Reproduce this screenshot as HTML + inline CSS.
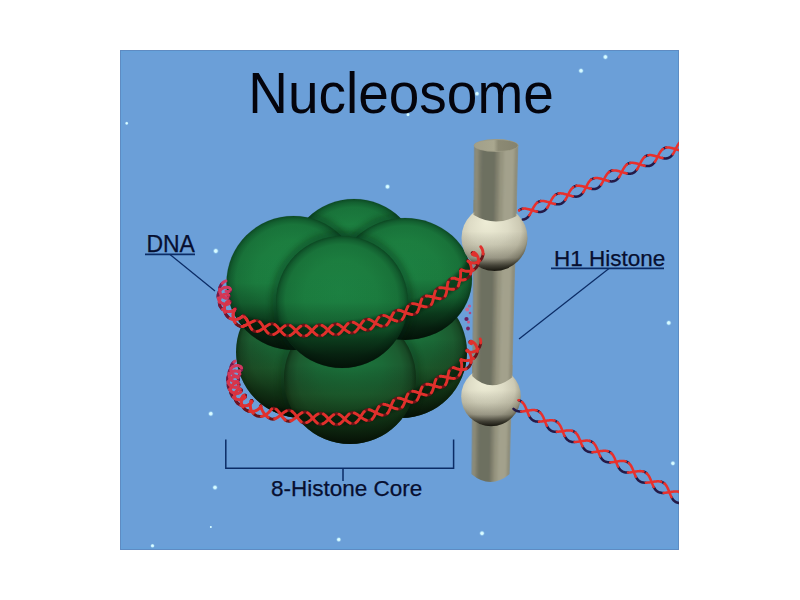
<!DOCTYPE html><html><head><meta charset="utf-8"><style>html,body{margin:0;padding:0;background:#fff;}svg{display:block}</style></head><body><svg width="800" height="600" viewBox="0 0 800 600"><defs><clipPath id="blueclip"><rect x="120" y="50" width="559" height="500"/></clipPath><radialGradient id="gU" cx="0.5" cy="0.5" r="0.5" fx="0.48" fy="0.42">
<stop offset="0" stop-color="#1d8343"/><stop offset="0.55" stop-color="#1c7f40"/><stop offset="0.85" stop-color="#19743a"/><stop offset="0.94" stop-color="#136030"/><stop offset="1" stop-color="#0d4a24"/></radialGradient>
<linearGradient id="vL" x1="0" y1="0" x2="0" y2="1"><stop offset="0" stop-color="#000" stop-opacity="0"/><stop offset="0.4" stop-color="#000" stop-opacity="0.0"/><stop offset="0.62" stop-color="#1a2a0c" stop-opacity="0.3"/><stop offset="0.8" stop-color="#0a1a06" stop-opacity="0.62"/><stop offset="1" stop-color="#050c03" stop-opacity="0.9"/></linearGradient>
<linearGradient id="vU" x1="0" y1="0" x2="0" y2="1"><stop offset="0" stop-color="#000" stop-opacity="0"/><stop offset="0.5" stop-color="#000" stop-opacity="0.03"/><stop offset="0.65" stop-color="#021006" stop-opacity="0.25"/><stop offset="0.78" stop-color="#021006" stop-opacity="0.6"/><stop offset="0.9" stop-color="#020a04" stop-opacity="0.78"/><stop offset="1" stop-color="#020a04" stop-opacity="0.88"/></linearGradient><radialGradient id="gL" cx="0.5" cy="0.5" r="0.5" fx="0.5" fy="0.35">
<stop offset="0" stop-color="#1b743c"/><stop offset="0.5" stop-color="#1b6a37"/><stop offset="0.8" stop-color="#1c5c30"/><stop offset="0.93" stop-color="#184a26"/><stop offset="1" stop-color="#0f3418"/></radialGradient><linearGradient id="pil" gradientUnits="userSpaceOnUse" x1="471" x2="518" y1="0" y2="0">
<stop offset="0" stop-color="#85816b"/><stop offset="0.1" stop-color="#a19d87"/><stop offset="0.3" stop-color="#bab6a0"/><stop offset="0.55" stop-color="#aeaa94"/><stop offset="0.85" stop-color="#a4a08a"/><stop offset="1" stop-color="#8c8872"/></linearGradient><radialGradient id="bead" cx="0.45" cy="0.42" r="0.58" fx="0.38" fy="0.25">
<stop offset="0" stop-color="#eeedd6"/><stop offset="0.5" stop-color="#dedcc6"/><stop offset="0.8" stop-color="#ccc9b3"/><stop offset="0.95" stop-color="#aaa792"/><stop offset="1" stop-color="#8a8772"/></radialGradient>
<linearGradient id="beadv" x1="0" y1="0" x2="0" y2="1"><stop offset="0" stop-color="#000" stop-opacity="0"/><stop offset="0.4" stop-color="#000" stop-opacity="0"/><stop offset="0.6" stop-color="#2a2818" stop-opacity="0.12"/><stop offset="0.8" stop-color="#1a1810" stop-opacity="0.3"/><stop offset="0.92" stop-color="#0f0e08" stop-opacity="0.7"/><stop offset="1" stop-color="#0f0e08" stop-opacity="0.92"/></linearGradient><radialGradient id="star"><stop offset="0" stop-color="#eaffff"/><stop offset="0.45" stop-color="#c8f4ff"/><stop offset="1" stop-color="#6b9fd8" stop-opacity="0"/></radialGradient><filter id="blur2" x="-50%" y="-50%" width="200%" height="200%"><feGaussianBlur stdDeviation="5"/></filter><filter id="blur3" x="-20%" y="-20%" width="140%" height="140%"><feGaussianBlur stdDeviation="3"/></filter><filter id="blurP" x="-20%" y="-5%" width="140%" height="110%"><feGaussianBlur stdDeviation="1.3 0.1"/></filter><linearGradient id="pilTop" x1="0" x2="1" y1="0" y2="0"><stop offset="0" stop-color="#a19f89"/><stop offset="0.45" stop-color="#a9a78f"/><stop offset="0.55" stop-color="#8c8a74"/><stop offset="1" stop-color="#85836e"/></linearGradient><filter id="blur1" x="-50%" y="-50%" width="200%" height="200%"><feGaussianBlur stdDeviation="1.5"/></filter></defs><rect x="0" y="0" width="800" height="600" fill="#ffffff"/><rect x="120" y="50" width="559" height="500" fill="#6b9fd8"/><rect x="121.5" y="51.5" width="556" height="497" fill="none" stroke="#64a2dc" stroke-width="2" opacity="0.7"/><rect x="120.5" y="50.5" width="558" height="499" fill="none" stroke="#5f8bc2" stroke-width="1"/><circle cx="126.7" cy="123.3" r="2.2" fill="url(#star)"/><circle cx="387.5" cy="186.7" r="3.2" fill="url(#star)"/><circle cx="215.8" cy="251" r="3.4" fill="url(#star)"/><circle cx="605.4" cy="57" r="3.2" fill="url(#star)"/><circle cx="581" cy="70.8" r="3.2" fill="url(#star)"/><circle cx="477" cy="93.75" r="3" fill="url(#star)"/><circle cx="408" cy="114.6" r="2.4" fill="url(#star)"/><circle cx="210.8" cy="413.75" r="3.2" fill="url(#star)"/><circle cx="215" cy="487.5" r="3.2" fill="url(#star)"/><circle cx="210.8" cy="527" r="1.6" fill="url(#star)"/><circle cx="152.5" cy="545.8" r="2.6" fill="url(#star)"/><circle cx="338.75" cy="539.6" r="3" fill="url(#star)"/><circle cx="668.75" cy="322.9" r="3.2" fill="url(#star)"/><circle cx="672.9" cy="463.3" r="3" fill="url(#star)"/><circle cx="482" cy="533.3" r="3.2" fill="url(#star)"/><text transform="translate(248.35,113.3) scale(0.9725,1)" x="0" y="0" font-family="Liberation Sans" font-size="56.5" fill="#04040c">Nucleosome</text><circle cx="469.5" cy="306" r="1.6" fill="#c85a8a"/><circle cx="467.2" cy="309.5" r="1.9" fill="#d06a90"/><circle cx="466.5" cy="319" r="2.1" fill="#6a1e5e"/><circle cx="468.5" cy="322" r="1.5" fill="#c85a8a"/><circle cx="468" cy="328.5" r="1.9" fill="#7a2060"/><circle cx="470" cy="313" r="1.3" fill="#b04a80"/><circle cx="352" cy="345" r="64" fill="url(#gL)" /><circle cx="352" cy="345" r="64" fill="url(#vL)" /><clipPath id="aoL1"><circle cx="352" cy="345" r="64" /></clipPath><g clip-path="url(#aoL1)"><circle cx="302" cy="352" r="67.5" fill="none" stroke="#031a08" stroke-width="6" opacity="0.3" filter="url(#blur3)"/></g><circle cx="302" cy="352" r="66" fill="url(#gL)" /><circle cx="302" cy="352" r="66" fill="url(#vL)" /><clipPath id="aoL2"><circle cx="352" cy="345" r="64" /><circle cx="302" cy="352" r="66" /></clipPath><g clip-path="url(#aoL2)"><circle cx="401" cy="352" r="67.5" fill="none" stroke="#031a08" stroke-width="6" opacity="0.3" filter="url(#blur3)"/></g><circle cx="401" cy="352" r="66" fill="url(#gL)" /><circle cx="401" cy="352" r="66" fill="url(#vL)" /><clipPath id="aoL3"><circle cx="352" cy="345" r="64" /><circle cx="302" cy="352" r="66" /><circle cx="401" cy="352" r="66" /></clipPath><g clip-path="url(#aoL3)"><circle cx="350" cy="378" r="67.5" fill="none" stroke="#031a08" stroke-width="6" opacity="0.3" filter="url(#blur3)"/></g><circle cx="350" cy="378" r="66" fill="url(#gL)" /><circle cx="350" cy="378" r="66" fill="url(#vL)" /><circle cx="354" cy="265" r="66" fill="url(#gU)" stroke="#0a3a18" stroke-opacity="0.15" stroke-width="1"/><circle cx="354" cy="265" r="66" fill="url(#vU)" /><clipPath id="aoU1"><circle cx="354" cy="265" r="66" /></clipPath><g clip-path="url(#aoU1)"><circle cx="293.5" cy="283" r="68.5" fill="none" stroke="#031a08" stroke-width="6" opacity="0.4" filter="url(#blur3)"/></g><circle cx="293.5" cy="283" r="67" fill="url(#gU)" stroke="#0a3a18" stroke-opacity="0.15" stroke-width="1"/><circle cx="293.5" cy="283" r="67" fill="url(#vU)" /><clipPath id="aoU2"><circle cx="354" cy="265" r="66" /><circle cx="293.5" cy="283" r="67" /></clipPath><g clip-path="url(#aoU2)"><ellipse cx="405" cy="279" rx="68.5" ry="62.5" fill="none" stroke="#031a08" stroke-width="6" opacity="0.4" filter="url(#blur3)"/></g><ellipse cx="405" cy="279" rx="67" ry="61" fill="url(#gU)" stroke="#0a3a18" stroke-opacity="0.15" stroke-width="1"/><ellipse cx="405" cy="279" rx="67" ry="61" fill="url(#vU)" /><clipPath id="aoU3"><circle cx="354" cy="265" r="66" /><circle cx="293.5" cy="283" r="67" /><ellipse cx="405" cy="279" rx="67" ry="61" /></clipPath><g clip-path="url(#aoU3)"><circle cx="342" cy="302" r="67.5" fill="none" stroke="#031a08" stroke-width="6" opacity="0.4" filter="url(#blur3)"/></g><circle cx="342" cy="302" r="66" fill="url(#gU)" stroke="#0a3a18" stroke-opacity="0.15" stroke-width="1"/><circle cx="342" cy="302" r="66" fill="url(#vU)" /><clipPath id="pilc"><path d="M473.80 145 L471.25 474 Q490.4 490 509.76 474 L518.40 145 Z"/></clipPath><g clip-path="url(#pilc)"><g filter="url(#blurP)"><path d="M473.85 139 L476.24 139 L473.27 488 L471.14 488 Z" fill="#85836f"/><path d="M475.64 139 L478.92 139 L475.56 488 L472.67 488 Z" fill="#908e7a"/><path d="M478.32 139 L482.05 139 L478.24 488 L474.96 488 Z" fill="#7d7d6b"/><path d="M481.45 139 L496.80 139 L490.86 488 L477.64 488 Z" fill="#6d6f60"/><path d="M496.20 139 L500.38 139 L493.92 488 L490.26 488 Z" fill="#82816e"/><path d="M499.78 139 L504.85 139 L497.75 488 L493.32 488 Z" fill="#96947f"/><path d="M504.25 139 L515.58 139 L506.93 488 L497.15 488 Z" fill="#a3a18c"/><path d="M514.98 139 L519.16 139 L509.99 488 L506.33 488 Z" fill="#8f8d79"/></g></g><ellipse cx="496.1" cy="145.5" rx="22.3" ry="6.4" fill="#9d9b85"/><path d="M474.5 145.5 A21.6 5.6 0 0 1 517.7 145.5 A21.6 5.6 0 0 1 474.5 145.5 Z" fill="url(#pilTop)"/><circle cx="494.5" cy="238" r="33" fill="url(#bead)"/><circle cx="494.5" cy="238" r="33" fill="url(#beadv)"/><clipPath id="pilc2"><path d="M473.37 200 L516.96 200 L516.53 216 Q495 227.5 473.26 214.7 Z"/></clipPath><g clip-path="url(#pilc2)"><g filter="url(#blurP)"><path d="M473.42 194 L475.77 194 L475.43 234 L473.11 234 Z" fill="#85836f"/><path d="M475.17 194 L478.39 194 L478.00 234 L474.83 234 Z" fill="#908e7a"/><path d="M477.79 194 L481.45 194 L481.01 234 L477.40 234 Z" fill="#7d7d6b"/><path d="M480.85 194 L495.87 194 L495.19 234 L480.41 234 Z" fill="#6d6f60"/><path d="M495.27 194 L499.36 194 L498.62 234 L494.59 234 Z" fill="#82816e"/><path d="M498.76 194 L503.73 194 L502.92 234 L498.02 234 Z" fill="#96947f"/><path d="M503.13 194 L514.22 194 L513.23 234 L502.32 234 Z" fill="#a3a18c"/><path d="M513.62 194 L517.71 194 L516.66 234 L512.63 234 Z" fill="#8f8d79"/></g></g><circle cx="491" cy="396.5" r="29.8" fill="url(#bead)"/><circle cx="491" cy="396.5" r="29.8" fill="url(#beadv)"/><clipPath id="pilc3"><path d="M472.09 365 L512.62 365 L512.30 377.3 Q491 394 472.01 376 Z"/></clipPath><g clip-path="url(#pilc3)"><g filter="url(#blurP)"><path d="M472.14 359 L474.36 359 L474.02 400 L471.82 400 Z" fill="#85836f"/><path d="M473.76 359 L476.80 359 L476.41 400 L473.42 400 Z" fill="#908e7a"/><path d="M476.20 359 L479.65 359 L479.20 400 L475.81 400 Z" fill="#7d7d6b"/><path d="M479.05 359 L493.06 359 L492.36 400 L478.60 400 Z" fill="#6d6f60"/><path d="M492.46 359 L496.31 359 L495.55 400 L491.76 400 Z" fill="#82816e"/><path d="M495.71 359 L500.37 359 L499.54 400 L494.95 400 Z" fill="#96947f"/><path d="M499.77 359 L510.13 359 L509.11 400 L498.94 400 Z" fill="#a3a18c"/><path d="M509.53 359 L513.38 359 L512.30 400 L508.51 400 Z" fill="#8f8d79"/></g></g><clipPath id="clus"><circle cx="352" cy="345" r="64" /><circle cx="302" cy="352" r="66" /><circle cx="401" cy="352" r="66" /><circle cx="350" cy="378" r="66" /><circle cx="354" cy="265" r="66" /><circle cx="293.5" cy="283" r="67" /><ellipse cx="405" cy="279" rx="67" ry="61" /><circle cx="342" cy="302" r="66" /></clipPath><path d="M250.0 406.0 L250.4 406.2 L250.8 406.3 L251.2 406.5 L251.6 406.8 L252.0 407.0 L252.5 407.3 L253.0 407.6 L253.5 407.9 L254.0 408.2 L254.6 408.5 L255.2 408.8 L255.8 409.1 L256.5 409.5 L257.3 409.8 L258.1 410.1 L259.0 410.5 L259.9 410.8 L260.9 411.2 L262.0 411.5 L263.2 411.8 L264.4 412.1 L265.8 412.4 L267.2 412.7 L268.7 413.0 L270.3 413.3 L272.1 413.6 L274.1 413.9 L276.2 414.2 L278.3 414.5 L280.6 414.8 L283.0 415.1 L285.5 415.4 L288.0 415.7 L290.6 416.0 L293.2 416.3 L295.8 416.6 L298.5 416.8 L301.1 417.1 L303.8 417.4 L306.4 417.6 L309.0 417.9 L311.5 418.1 L314.0 418.3 L316.4 418.5 L318.7 418.6 L320.9 418.8 L323.0 418.9 L325.0 419.0 L326.9 419.1 L328.7 419.1 L330.4 419.2 L332.1 419.2 L333.8 419.2 L335.4 419.2 L336.9 419.2 L338.4 419.2 L339.9 419.2 L341.3 419.1 L342.8 419.1 L344.1 419.0 L345.5 418.9 L346.8 418.8 L348.2 418.7 L349.5 418.6 L350.8 418.4 L352.1 418.2 L353.4 418.1 L354.7 417.9 L356.0 417.7 L357.3 417.5 L358.7 417.2 L360.0 417.0 L361.3 416.7 L362.6 416.5 L363.9 416.2 L365.2 415.9 L366.4 415.6 L367.6 415.3 L368.8 414.9 L370.0 414.6 L371.2 414.2 L372.3 413.9 L373.5 413.5 L374.7 413.1 L375.9 412.6 L377.0 412.2 L378.2 411.8 L379.4 411.3 L380.7 410.8 L381.9 410.3 L383.2 409.8 L384.5 409.3 L385.8 408.7 L387.2 408.2 L388.6 407.6 L390.0 407.0 L391.5 406.4 L393.0 405.7 L394.6 405.0 L396.2 404.3 L397.9 403.6 L399.6 402.9 L401.3 402.1 L403.0 401.3 L404.8 400.5 L406.6 399.7 L408.3 398.8 L410.1 398.0 L411.9 397.2 L413.7 396.3 L415.4 395.4 L417.2 394.6 L418.9 393.7 L420.6 392.9 L422.3 392.0 L423.9 391.2 L425.5 390.4 L427.1 389.6 L428.6 388.8 L430.0 388.0 L431.4 387.2 L432.8 386.5 L434.2 385.7 L435.5 384.9 L436.9 384.1 L438.2 383.4 L439.5 382.6 L440.8 381.8 L442.1 381.0 L443.3 380.3 L444.6 379.5 L445.8 378.8 L446.9 378.0 L448.1 377.2 L449.2 376.5 L450.3 375.7 L451.4 375.0 L452.4 374.3 L453.4 373.5 L454.4 372.8 L455.3 372.1 L456.3 371.4 L457.1 370.7 L458.0 370.0 L458.8 369.3 L459.6 368.6 L460.3 368.0 L461.0 367.3 L461.6 366.7 L462.3 366.0 L462.9 365.4 L463.4 364.7 L463.9 364.1 L464.4 363.5 L464.9 362.9 L465.4 362.2 L465.8 361.6 L466.2 361.0 L466.6 360.4 L467.0 359.8 L467.4 359.2 L467.8 358.6 L468.2 358.0 L468.5 357.4 L468.9 356.8 L469.3 356.2 L469.6 355.6 L470.0 355.0 L470.4 354.4 L470.7 353.8 L471.1 353.1 L471.4 352.4 L471.7 351.8 L472.1 351.1 L472.4 350.4 L472.7 349.7 L473.0 349.1 L473.2 348.4 L473.5 347.7 L473.8 347.1 L474.0 346.4 L474.2 345.8 L474.5 345.2 L474.7 344.6 L474.9 344.0 L475.1 343.5 L475.2 343.0 L475.4 342.5 L475.6 342.1 L475.7 341.7 L475.9 341.3 L476.0 341.0" stroke="#020d04" stroke-width="11" fill="none" opacity="0.45" filter="url(#blur1)" clip-path="url(#clus)"/><path d="M233.8 362.1L232.6 363.4M239.9 370.9L240.8 370.5" stroke="#7a1a4f" stroke-width="2.9" fill="none" stroke-linecap="round"/><path d="M232.6 363.4L231.6 365.0M240.8 370.5L241.5 369.9" stroke="#7a1a4e" stroke-width="2.9" fill="none" stroke-linecap="round"/><path d="M231.6 365.0L231.0 366.8M241.5 369.9L241.7 369.0" stroke="#791a4e" stroke-width="2.9" fill="none" stroke-linecap="round"/><path d="M231.0 366.8L230.8 368.6M241.7 369.0L241.6 368.1" stroke="#791a4d" stroke-width="2.9" fill="none" stroke-linecap="round"/><path d="M238.5 376.1L239.3 375.5M231.2 368.2L230.1 369.7" stroke="#781948" stroke-width="2.9" fill="none" stroke-linecap="round"/><path d="M239.3 375.5L239.8 374.7M230.1 369.7L229.3 371.4" stroke="#781947" stroke-width="2.9" fill="none" stroke-linecap="round"/><path d="M239.8 374.7L239.9 373.8M229.3 371.4L228.9 373.3" stroke="#771947" stroke-width="2.9" fill="none" stroke-linecap="round"/><path d="M229.1 374.6L228.2 376.3M237.5 381.3L238.2 380.5" stroke="#761841" stroke-width="2.9" fill="none" stroke-linecap="round"/><path d="M228.2 376.3L227.7 378.0M238.2 380.5L238.5 379.8" stroke="#761840" stroke-width="2.9" fill="none" stroke-linecap="round"/><path d="M227.7 378.0L227.6 379.9M238.5 379.8L238.5 378.9" stroke="#751840" stroke-width="2.9" fill="none" stroke-linecap="round"/><path d="M227.6 379.9L228.0 381.9M238.5 378.9L238.1 377.9" stroke="#75183f" stroke-width="2.9" fill="none" stroke-linecap="round"/><path d="M238.5 386.0L238.9 385.2M228.3 382.7L228.1 384.5" stroke="#741839" stroke-width="2.9" fill="none" stroke-linecap="round"/><path d="M238.9 385.2L239.0 384.5M228.1 384.5L228.2 386.2" stroke="#731839" stroke-width="2.9" fill="none" stroke-linecap="round"/><path d="M239.0 384.5L238.9 383.9M238.9 383.9L238.4 383.3M228.2 386.2L228.6 387.8M228.6 387.8L229.4 389.4" stroke="#731738" stroke-width="2.9" fill="none" stroke-linecap="round"/><path d="M230.4 390.3L230.5 391.9M230.5 391.9L230.9 393.4M240.9 391.7L241.3 391.0M241.3 391.0L241.4 390.3" stroke="#711731" stroke-width="2.9" fill="none" stroke-linecap="round"/><path d="M230.9 393.4L231.5 394.8M231.5 394.8L232.2 396.1M241.4 390.3L241.2 389.8M241.2 389.8L240.9 389.4" stroke="#711730" stroke-width="2.9" fill="none" stroke-linecap="round"/><path d="M232.2 396.1L233.3 397.2M240.9 389.4L240.4 389.1" stroke="#71162f" stroke-width="2.9" fill="none" stroke-linecap="round"/><path d="M245.2 397.2L245.5 396.7M234.9 398.1L235.2 399.4" stroke="#6f1628" stroke-width="2.9" fill="none" stroke-linecap="round"/><path d="M245.5 396.7L245.6 396.2M235.2 399.4L235.8 400.7" stroke="#6e1628" stroke-width="2.9" fill="none" stroke-linecap="round"/><path d="M245.6 396.2L245.5 395.7M235.8 400.7L236.5 401.9" stroke="#6e1627" stroke-width="2.9" fill="none" stroke-linecap="round"/><path d="M245.5 395.7L245.3 395.3M236.5 401.9L237.4 403.0" stroke="#6e1626" stroke-width="2.9" fill="none" stroke-linecap="round"/><path d="M245.3 395.3L245.1 395.2M237.4 403.0L238.3 403.8" stroke="#6e1526" stroke-width="2.9" fill="none" stroke-linecap="round"/><path d="M245.1 395.2L244.6 395.1M244.6 395.1L244.1 395.2M238.3 403.8L239.5 404.6M239.5 404.6L240.7 405.2" stroke="#6e1525" stroke-width="2.9" fill="none" stroke-linecap="round"/><path d="M243.0 407.0L243.7 408.0M251.9 401.7L252.0 401.2" stroke="#6b141d" stroke-width="2.9" fill="none" stroke-linecap="round"/><path d="M243.7 408.0L244.6 408.9M252.0 401.2L251.9 400.9" stroke="#6b141c" stroke-width="2.9" fill="none" stroke-linecap="round"/><path d="M244.6 408.9L245.4 409.6M245.4 409.6L246.5 410.3M251.9 400.9L251.9 400.7M251.9 400.7L251.7 400.6" stroke="#6b141b" stroke-width="2.9" fill="none" stroke-linecap="round"/><path d="M246.5 410.3L247.5 410.8M251.7 400.6L251.5 400.6" stroke="#6b141a" stroke-width="2.9" fill="none" stroke-linecap="round"/><path d="M247.5 410.8L248.6 411.1M251.5 400.6L251.3 400.8" stroke="#6a141a" stroke-width="2.9" fill="none" stroke-linecap="round"/><path d="M248.6 411.1L249.6 411.4M251.3 400.8L251.1 401.1" stroke="#6a1419" stroke-width="2.9" fill="none" stroke-linecap="round"/><path d="M260.5 406.5L260.6 406.1M260.6 406.1L260.8 405.9M260.8 405.9L260.8 405.7M260.8 405.7L260.8 405.6M260.8 405.6L260.9 405.6M260.9 405.6L260.8 405.6M260.8 405.6L260.9 405.8M260.9 405.8L260.8 406.0M260.8 406.0L260.9 406.4M268.1 417.4L268.8 417.9M268.8 417.9L269.5 418.2M269.5 418.2L270.1 418.5M270.1 418.5L270.8 418.8M270.8 418.8L271.5 419.0M271.5 419.0L272.1 419.1M272.1 419.1L272.6 419.2M272.6 419.2L273.2 419.2M273.2 419.2L273.6 419.1M273.6 419.1L274.2 419.0M274.2 419.0L274.7 418.9M286.3 410.9L286.9 410.7M286.9 410.7L287.4 410.5M287.4 410.5L287.9 410.4M287.9 410.4L288.4 410.3M288.4 410.3L288.9 410.3M288.9 410.3L289.4 410.3M289.4 410.3L289.9 410.4M289.9 410.4L290.4 410.5M290.4 410.5L290.9 410.7M290.9 410.7L291.3 410.9M291.3 410.9L291.8 411.2M301.2 421.7L301.7 422.0M301.7 422.0L302.2 422.3M302.2 422.3L302.7 422.5M302.7 422.5L303.1 422.7M303.1 422.7L303.7 422.9M303.7 422.9L304.2 422.9M304.2 422.9L304.7 423.0M304.7 423.0L305.2 422.9M305.2 422.9L305.7 422.9M305.7 422.9L306.2 422.7M306.2 422.7L306.7 422.6M318.0 414.0L318.5 413.8M318.5 413.8L319.0 413.6M319.0 413.6L319.5 413.4M319.5 413.4L320.0 413.3M320.0 413.3L320.5 413.3M320.5 413.3L321.0 413.3M321.0 413.3L321.4 413.3M321.4 413.3L321.9 413.4M321.9 413.4L322.4 413.6M322.4 413.6L322.9 413.8M322.9 413.8L323.4 414.0M333.6 423.8L334.1 424.1M334.1 424.1L334.6 424.3M334.6 424.3L335.1 424.5M335.1 424.5L335.6 424.6M335.6 424.6L336.1 424.7M336.1 424.7L336.6 424.7M336.6 424.7L337.2 424.7M337.2 424.7L337.7 424.6M337.7 424.6L338.2 424.5M338.2 424.5L338.7 424.3M338.7 424.3L339.2 424.1M349.1 414.0L349.5 413.7M349.5 413.7L350.0 413.4M350.0 413.4L350.4 413.2M350.4 413.2L350.9 413.0M350.9 413.0L351.4 412.8M351.4 412.8L351.8 412.7M351.8 412.7L352.3 412.7M352.3 412.7L352.8 412.7M352.8 412.7L353.3 412.8M353.3 412.8L353.8 412.9M353.8 412.9L354.3 413.0M366.4 420.3L367.0 420.4M367.0 420.4L367.5 420.5M367.5 420.5L368.1 420.6M368.1 420.6L368.7 420.6M368.7 420.6L369.2 420.5M369.2 420.5L369.7 420.4M369.7 420.4L370.2 420.2M370.2 420.2L370.7 420.0M370.7 420.0L371.2 419.8M371.2 419.8L371.7 419.4M371.7 419.4L372.1 419.1M378.9 406.6L379.2 406.2M379.2 406.2L379.6 405.8M379.6 405.8L380.0 405.5M380.0 405.5L380.4 405.1M380.4 405.1L380.8 404.9M380.8 404.9L381.2 404.7M381.2 404.7L381.7 404.5M381.7 404.5L382.2 404.4M382.2 404.4L382.7 404.3M382.7 404.3L383.2 404.3M383.2 404.3L383.8 404.3M397.1 408.9L397.7 409.0M397.7 409.0L398.3 409.0M398.3 409.0L398.8 408.9M398.8 408.9L399.3 408.9M399.3 408.9L399.8 408.7M399.8 408.7L400.3 408.6M400.3 408.6L400.7 408.3M400.7 408.3L401.2 408.1M401.2 408.1L401.6 407.7M401.6 407.7L402.0 407.4M402.0 407.4L402.3 407.0M407.9 394.0L408.3 393.6M408.3 393.6L408.6 393.1M408.6 393.1L409.0 392.7M409.0 392.7L409.4 392.4M409.4 392.4L409.8 392.1M409.8 392.1L410.2 391.9M410.2 391.9L410.7 391.7M410.7 391.7L411.1 391.5M411.1 391.5L411.6 391.4M411.6 391.4L412.2 391.4M412.2 391.4L412.7 391.3M426.3 395.1L426.9 395.1M426.9 395.1L427.4 395.1M427.4 395.1L428.0 395.0M428.0 395.0L428.5 394.9M428.5 394.9L429.0 394.7M429.0 394.7L429.4 394.5M429.4 394.5L429.9 394.3M429.9 394.3L430.3 394.0M430.3 394.0L430.7 393.6M430.7 393.6L431.1 393.2M431.1 393.2L431.4 392.8M435.9 379.4L436.2 378.9M436.2 378.9L436.5 378.5M436.5 378.5L436.8 378.1M436.8 378.1L437.2 377.7M437.2 377.7L437.6 377.4M437.6 377.4L438.0 377.1M438.0 377.1L438.4 376.9M438.4 376.9L438.9 376.7M438.9 376.7L439.3 376.5M439.3 376.5L439.9 376.4M439.9 376.4L440.4 376.3M454.4 378.4L454.9 378.4M454.9 378.4L455.5 378.3M455.5 378.3L456.0 378.1M456.0 378.1L456.5 377.9M456.5 377.9L457.0 377.7M457.0 377.7L457.4 377.4M457.4 377.4L457.9 377.1M457.9 377.1L458.2 376.7M458.2 376.7L458.6 376.3M458.6 376.3L458.9 375.8M458.9 375.8L459.1 375.3M460.8 360.6L460.8 360.2M460.8 360.2L460.6 359.9M460.6 359.9L460.6 359.7M460.6 359.7L460.6 359.5M460.6 359.5L460.6 359.5M460.6 359.5L460.7 359.4M460.7 359.4L460.8 359.5M460.8 359.5L461.0 359.5M461.0 359.5L461.3 359.6M473.5 358.4L474.3 357.7M474.3 357.7L475.1 356.9M475.1 356.9L475.8 355.9M475.8 355.9L476.3 354.9M476.3 354.9L476.8 353.8M476.8 353.8L477.1 352.7M477.1 352.7L477.3 351.5M470.8 341.3L470.4 341.4M470.4 341.4L470.0 341.6M470.0 341.6L469.8 341.9M469.8 341.9L469.8 342.2M469.8 342.2L469.9 342.6M253.3 413.3L254.1 414.1M254.1 414.1L254.8 414.7M254.8 414.7L255.7 415.3M255.7 415.3L256.7 415.8M256.7 415.8L257.6 416.1M257.6 416.1L258.6 416.3M258.6 416.3L259.5 416.4M259.5 416.4L260.5 416.5M260.5 416.5L261.3 416.4M271.8 409.0L272.0 408.7M272.0 408.7L272.4 408.5M272.4 408.5L272.7 408.4M272.7 408.4L273.0 408.3M273.0 408.3L273.4 408.2M273.4 408.2L273.7 408.2M273.7 408.2L274.1 408.3M274.1 408.3L274.6 408.5M274.6 408.5L275.1 408.7M275.1 408.7L275.6 408.9M275.6 408.9L276.1 409.2M285.2 419.9L285.7 420.3M285.7 420.3L286.2 420.5M286.2 420.5L286.6 420.8M286.6 420.8L287.1 421.0M287.1 421.0L287.6 421.1M287.6 421.1L288.1 421.2M288.1 421.2L288.6 421.3M288.6 421.3L289.1 421.3M289.1 421.3L289.6 421.2M289.6 421.2L290.2 421.1M290.2 421.1L290.7 420.9M302.1 412.7L302.7 412.4M302.7 412.4L303.2 412.2M303.2 412.2L303.7 412.1M303.7 412.1L304.2 412.0M304.2 412.0L304.7 412.0M304.7 412.0L305.2 412.0M305.2 412.0L305.7 412.1M305.7 412.1L306.2 412.2M306.2 412.2L306.7 412.3M306.7 412.3L307.1 412.6M307.1 412.6L307.6 412.8M317.3 423.1L317.8 423.4M317.8 423.4L318.3 423.7M318.3 423.7L318.8 423.9M318.8 423.9L319.3 424.1M319.3 424.1L319.8 424.2M319.8 424.2L320.3 424.3M320.3 424.3L320.8 424.3M320.8 424.3L321.3 424.2M321.3 424.2L321.8 424.1M321.8 424.1L322.3 424.0M322.3 424.0L322.9 423.8M333.7 414.7L334.1 414.4M334.1 414.4L334.6 414.2M334.6 414.2L335.1 414.0M335.1 414.0L335.6 413.9M335.6 413.9L336.1 413.8M336.1 413.8L336.6 413.7M336.6 413.7L337.0 413.8M337.0 413.8L337.5 413.8M337.5 413.8L338.0 413.9M338.0 413.9L338.5 414.1M338.5 414.1L339.0 414.3M350.1 423.1L350.6 423.3M350.6 423.3L351.1 423.5M351.1 423.5L351.7 423.6M351.7 423.6L352.2 423.7M352.2 423.7L352.7 423.7M352.7 423.7L353.3 423.6M353.3 423.6L353.8 423.6M353.8 423.6L354.3 423.4M354.3 423.4L354.8 423.2M354.8 423.2L355.3 423.0M355.3 423.0L355.8 422.7M364.3 411.5L364.7 411.1M364.7 411.1L365.1 410.7M365.1 410.7L365.5 410.4M365.5 410.4L365.9 410.2M365.9 410.2L366.3 410.0M366.3 410.0L366.8 409.8M366.8 409.8L367.3 409.7M367.3 409.7L367.7 409.6M367.7 409.6L368.2 409.6M368.2 409.6L368.7 409.7M368.7 409.7L369.2 409.7M382.2 415.1L382.8 415.2M382.8 415.2L383.3 415.2M383.3 415.2L383.9 415.2M383.9 415.2L384.4 415.1M384.4 415.1L384.9 415.0M384.9 415.0L385.4 414.8M385.4 414.8L385.9 414.6M385.9 414.6L386.3 414.4M386.3 414.4L386.7 414.1M386.7 414.1L387.1 413.7M387.1 413.7L387.5 413.3M393.5 400.6L393.9 400.1M393.9 400.1L394.2 399.7M394.2 399.7L394.6 399.3M394.6 399.3L395.0 399.0M395.0 399.0L395.4 398.7M395.4 398.7L395.8 398.5M395.8 398.5L396.3 398.3M396.3 398.3L396.8 398.2M396.8 398.2L397.3 398.1M397.3 398.1L397.8 398.1M397.8 398.1L398.3 398.1M411.8 402.2L412.4 402.3M412.4 402.3L413.0 402.3M413.0 402.3L413.5 402.2M413.5 402.2L414.0 402.1M414.0 402.1L414.5 402.0M414.5 402.0L415.0 401.8M415.0 401.8L415.4 401.5M415.4 401.5L415.8 401.3M415.8 401.3L416.2 400.9M416.2 400.9L416.6 400.6M416.6 400.6L417.0 400.1M422.1 387.0L422.5 386.5M422.5 386.5L422.8 386.1M422.8 386.1L423.1 385.7M423.1 385.7L423.5 385.4M423.5 385.4L423.9 385.1M423.9 385.1L424.3 384.8M424.3 384.8L424.8 384.6M424.8 384.6L425.2 384.4M425.2 384.4L425.7 384.3M425.7 384.3L426.2 384.2M426.2 384.2L426.8 384.2M440.6 387.2L441.1 387.2M441.1 387.2L441.7 387.2M441.7 387.2L442.2 387.1M442.2 387.1L442.7 386.9M442.7 386.9L443.2 386.8M443.2 386.8L443.7 386.5M443.7 386.5L444.1 386.2M444.1 386.2L444.5 385.9M444.5 385.9L444.9 385.5M444.9 385.5L445.2 385.1M445.2 385.1L445.5 384.7M449.1 371.0L449.4 370.5M449.4 370.5L449.6 370.1M449.6 370.1L449.9 369.6M449.9 369.6L450.2 369.2M450.2 369.2L450.5 368.9M450.5 368.9L450.9 368.6M450.9 368.6L451.3 368.3M451.3 368.3L451.7 368.1M451.7 368.1L452.1 367.9M452.1 367.9L452.6 367.7M452.6 367.7L453.2 367.6M466.1 368.8L466.8 368.4M466.8 368.4L467.6 367.9M467.6 367.9L468.2 367.4M468.2 367.4L468.9 366.7M468.9 366.7L469.5 366.0M469.5 366.0L469.9 365.2M469.9 365.2L470.4 364.4M470.4 364.4L470.8 363.5M470.8 363.5L471.0 362.6M467.4 350.2L467.0 350.0M467.0 350.0L466.7 350.0M466.7 350.0L466.5 350.1M466.5 350.1L466.4 350.1M466.4 350.1L466.4 350.4M466.4 350.4L466.5 350.6M466.5 350.6L466.8 350.8M478.1 349.0L478.9 348.0M478.9 348.0L479.6 346.9M479.6 346.9L480.1 345.6M480.1 345.6L480.5 344.3M480.5 344.3L480.7 343.0" stroke="#6a1418" stroke-width="2.9" fill="none" stroke-linecap="round"/><path d="M235.2 361.1L233.8 362.1M238.8 370.9L239.9 370.9" stroke="#d03a63" stroke-width="2.9" fill="none" stroke-linecap="round"/><path d="M230.8 368.6L230.9 370.5M241.6 368.1L241.1 367.2" stroke="#d13961" stroke-width="2.9" fill="none" stroke-linecap="round"/><path d="M230.9 370.5L231.5 372.3M241.1 367.2L240.2 366.4" stroke="#d13960" stroke-width="2.9" fill="none" stroke-linecap="round"/><path d="M231.5 372.3L232.4 373.8M232.4 373.8L233.6 375.0M240.2 366.4L239.0 365.8M239.0 365.8L237.5 365.5" stroke="#d1395f" stroke-width="2.9" fill="none" stroke-linecap="round"/><path d="M233.6 375.0L234.9 375.8M234.9 375.8L236.2 376.3M237.5 365.5L235.8 365.6M235.8 365.6L234.2 366.1" stroke="#d2395e" stroke-width="2.9" fill="none" stroke-linecap="round"/><path d="M236.2 376.3L237.5 376.4M234.2 366.1L232.6 366.9" stroke="#d2395d" stroke-width="2.9" fill="none" stroke-linecap="round"/><path d="M237.5 376.4L238.5 376.1M232.6 366.9L231.2 368.2" stroke="#d2395c" stroke-width="2.9" fill="none" stroke-linecap="round"/><path d="M239.9 373.8L239.5 372.9M239.5 372.9L238.8 372.1M228.9 373.3L229.0 375.2M229.0 375.2L229.4 377.0" stroke="#d3385a" stroke-width="2.9" fill="none" stroke-linecap="round"/><path d="M238.8 372.1L237.7 371.4M229.4 377.0L230.2 378.6" stroke="#d33859" stroke-width="2.9" fill="none" stroke-linecap="round"/><path d="M237.7 371.4L236.4 371.1M236.4 371.1L234.9 371.0M230.2 378.6L231.2 379.9M231.2 379.9L232.5 380.9" stroke="#d33858" stroke-width="2.9" fill="none" stroke-linecap="round"/><path d="M234.9 371.0L233.2 371.3M233.2 371.3L231.8 372.0M232.5 380.9L233.9 381.6M233.9 381.6L235.2 381.8" stroke="#d43857" stroke-width="2.9" fill="none" stroke-linecap="round"/><path d="M231.8 372.0L230.3 373.1M235.2 381.8L236.4 381.7" stroke="#d43856" stroke-width="2.9" fill="none" stroke-linecap="round"/><path d="M230.3 373.1L229.1 374.6M236.4 381.7L237.5 381.3" stroke="#d43756" stroke-width="2.9" fill="none" stroke-linecap="round"/><path d="M228.0 381.9L228.8 383.7M238.1 377.9L237.2 377.1" stroke="#d53753" stroke-width="2.9" fill="none" stroke-linecap="round"/><path d="M228.8 383.7L229.8 385.0M229.8 385.0L231.2 386.1M237.2 377.1L236.2 376.8M236.2 376.8L234.9 376.6" stroke="#d53752" stroke-width="2.9" fill="none" stroke-linecap="round"/><path d="M231.2 386.1L232.7 386.9M234.9 376.6L233.5 376.9" stroke="#d53751" stroke-width="2.9" fill="none" stroke-linecap="round"/><path d="M232.7 386.9L234.1 387.3M234.1 387.3L235.6 387.3M233.5 376.9L232.1 377.5M232.1 377.5L230.8 378.4" stroke="#d63650" stroke-width="2.9" fill="none" stroke-linecap="round"/><path d="M235.6 387.3L236.7 387.2M236.7 387.2L237.8 386.7M230.8 378.4L229.7 379.6M229.7 379.6L228.9 381.1" stroke="#d6364f" stroke-width="2.9" fill="none" stroke-linecap="round"/><path d="M237.8 386.7L238.5 386.0M228.9 381.1L228.3 382.7" stroke="#d6364e" stroke-width="2.9" fill="none" stroke-linecap="round"/><path d="M238.4 383.3L237.6 382.9M229.4 389.4L230.4 390.7" stroke="#d7364b" stroke-width="2.9" fill="none" stroke-linecap="round"/><path d="M237.6 382.9L236.7 382.7M230.4 390.7L231.6 391.8" stroke="#d7354b" stroke-width="2.9" fill="none" stroke-linecap="round"/><path d="M236.7 382.7L235.6 382.8M231.6 391.8L233.0 392.7" stroke="#d7354a" stroke-width="2.9" fill="none" stroke-linecap="round"/><path d="M235.6 382.8L234.7 383.2M234.7 383.2L233.6 383.9M233.0 392.7L234.3 393.2M234.3 393.2L235.8 393.5" stroke="#d83549" stroke-width="2.9" fill="none" stroke-linecap="round"/><path d="M233.6 383.9L232.6 384.8M232.6 384.8L231.7 386.0M235.8 393.5L237.1 393.5M237.1 393.5L238.4 393.2" stroke="#d83548" stroke-width="2.9" fill="none" stroke-linecap="round"/><path d="M231.7 386.0L231.0 387.3M231.0 387.3L230.6 388.7M238.4 393.2L239.5 392.8M239.5 392.8L240.3 392.3" stroke="#d83547" stroke-width="2.9" fill="none" stroke-linecap="round"/><path d="M230.6 388.7L230.4 390.3M240.3 392.3L240.9 391.7" stroke="#d93546" stroke-width="2.9" fill="none" stroke-linecap="round"/><path d="M233.3 397.2L234.5 398.2M234.5 398.2L235.7 398.9M240.4 389.1L239.8 389.0M239.8 389.0L239.0 389.1" stroke="#da3442" stroke-width="2.9" fill="none" stroke-linecap="round"/><path d="M235.7 398.9L237.0 399.4M237.0 399.4L238.4 399.7M239.0 389.1L238.3 389.5M238.3 389.5L237.4 390.0" stroke="#da3441" stroke-width="2.9" fill="none" stroke-linecap="round"/><path d="M238.4 399.7L239.7 399.8M239.7 399.8L241.0 399.7M237.4 390.0L236.7 390.8M236.7 390.8L236.0 391.7" stroke="#da3440" stroke-width="2.9" fill="none" stroke-linecap="round"/><path d="M241.0 399.7L242.2 399.3M236.0 391.7L235.4 392.8" stroke="#db333f" stroke-width="2.9" fill="none" stroke-linecap="round"/><path d="M242.2 399.3L243.1 399.0M243.1 399.0L244.0 398.4M235.4 392.8L235.0 394.0M235.0 394.0L234.8 395.3" stroke="#db333e" stroke-width="2.9" fill="none" stroke-linecap="round"/><path d="M244.0 398.4L244.7 397.8M244.7 397.8L245.2 397.2M234.8 395.3L234.7 396.7M234.7 396.7L234.9 398.1" stroke="#db333d" stroke-width="2.9" fill="none" stroke-linecap="round"/><path d="M244.1 395.2L243.6 395.5M243.6 395.5L243.1 396.0M240.7 405.2L241.9 405.6M241.9 405.6L243.1 405.8" stroke="#dd3238" stroke-width="2.9" fill="none" stroke-linecap="round"/><path d="M243.1 396.0L242.6 396.6M243.1 405.8L244.4 405.9" stroke="#dd3237" stroke-width="2.9" fill="none" stroke-linecap="round"/><path d="M242.6 396.6L242.1 397.3M242.1 397.3L241.7 398.2M244.4 405.9L245.6 405.8M245.6 405.8L246.8 405.6" stroke="#dd3236" stroke-width="2.9" fill="none" stroke-linecap="round"/><path d="M241.7 398.2L241.5 399.2M246.8 405.6L247.8 405.3" stroke="#dd3235" stroke-width="2.9" fill="none" stroke-linecap="round"/><path d="M241.5 399.2L241.3 400.3M247.8 405.3L248.7 404.8" stroke="#de3235" stroke-width="2.9" fill="none" stroke-linecap="round"/><path d="M241.3 400.3L241.2 401.4M248.7 404.8L249.6 404.3" stroke="#de3134" stroke-width="2.9" fill="none" stroke-linecap="round"/><path d="M241.2 401.4L241.3 402.5M241.3 402.5L241.5 403.7M249.6 404.3L250.3 403.8M250.3 403.8L250.9 403.2" stroke="#de3133" stroke-width="2.9" fill="none" stroke-linecap="round"/><path d="M241.5 403.7L241.9 404.9M241.9 404.9L242.4 406.0M250.9 403.2L251.3 402.6M251.3 402.6L251.6 402.1" stroke="#de3132" stroke-width="2.9" fill="none" stroke-linecap="round"/><path d="M242.4 406.0L243.0 407.0M251.6 402.1L251.9 401.7" stroke="#df3131" stroke-width="2.9" fill="none" stroke-linecap="round"/><path d="M249.6 411.4L250.6 411.5M251.1 401.1L251.0 401.5" stroke="#e0302d" stroke-width="2.9" fill="none" stroke-linecap="round"/><path d="M250.6 411.5L251.6 411.5M251.6 411.5L252.6 411.4M252.6 411.4L253.6 411.3M253.6 411.3L254.6 411.1M254.6 411.1L255.5 410.8M255.5 410.8L256.4 410.4M256.4 410.4L257.2 410.0M257.2 410.0L257.9 409.5M257.9 409.5L258.6 409.0M258.6 409.0L259.1 408.5M259.1 408.5L259.6 407.9M259.6 407.9L260.0 407.5M260.0 407.5L260.3 407.0M260.3 407.0L260.5 406.5M260.9 406.4L261.0 406.8M261.0 406.8L261.1 407.2M261.1 407.2L261.2 407.8M261.2 407.8L261.4 408.3M261.4 408.3L261.6 409.0M261.6 409.0L261.9 409.6M261.9 409.6L262.2 410.4M262.2 410.4L262.6 411.1M262.6 411.1L263.0 411.8M263.0 411.8L263.4 412.5M263.4 412.5L263.9 413.2M263.9 413.2L264.4 413.9M264.4 413.9L265.0 414.6M265.0 414.6L265.6 415.2M265.6 415.2L266.2 415.8M266.2 415.8L266.8 416.4M266.8 416.4L267.5 417.0M267.5 417.0L268.1 417.4M274.7 418.9L275.2 418.7M275.2 418.7L275.8 418.4M275.8 418.4L276.3 418.1M276.3 418.1L276.9 417.8M276.9 417.8L277.4 417.5M277.4 417.5L278.0 417.1M278.0 417.1L278.6 416.7M278.6 416.7L279.1 416.2M279.1 416.2L279.7 415.8M279.7 415.8L280.3 415.3M280.3 415.3L280.8 414.8M280.8 414.8L281.4 414.4M281.4 414.4L281.9 413.9M281.9 413.9L282.5 413.5M282.5 413.5L283.1 413.0M283.1 413.0L283.6 412.6M283.6 412.6L284.2 412.2M284.2 412.2L284.7 411.8M284.7 411.8L285.3 411.5M285.3 411.5L285.8 411.2M285.8 411.2L286.3 410.9M291.8 411.2L292.3 411.5M292.3 411.5L292.7 411.9M292.7 411.9L293.2 412.3M293.2 412.3L293.6 412.8M293.6 412.8L294.1 413.2M294.1 413.2L294.5 413.8M294.5 413.8L295.0 414.3M295.0 414.3L295.4 414.8M295.4 414.8L295.8 415.4M295.8 415.4L296.3 416.0M296.3 416.0L296.7 416.6M296.7 416.6L297.2 417.2M297.2 417.2L297.6 417.8M297.6 417.8L298.0 418.3M298.0 418.3L298.5 418.9M298.5 418.9L298.9 419.4M298.9 419.4L299.4 420.0M299.4 420.0L299.8 420.4M299.8 420.4L300.3 420.9M300.3 420.9L300.8 421.3M300.8 421.3L301.2 421.7M306.7 422.6L307.2 422.3M307.2 422.3L307.8 422.1M307.8 422.1L308.3 421.8M308.3 421.8L308.8 421.4M308.8 421.4L309.4 421.0M309.4 421.0L309.9 420.6M309.9 420.6L310.5 420.2M310.5 420.2L311.0 419.7M311.0 419.7L311.6 419.2M311.6 419.2L312.1 418.7M312.1 418.7L312.6 418.2M312.6 418.2L313.2 417.7M313.2 417.7L313.7 417.3M313.7 417.3L314.3 416.8M314.3 416.8L314.8 416.3M314.8 416.3L315.3 415.8M315.3 415.8L315.9 415.4M315.9 415.4L316.4 415.0M316.4 415.0L316.9 414.7M316.9 414.7L317.4 414.3M317.4 414.3L318.0 414.0M323.4 414.0L323.8 414.3M323.8 414.3L324.3 414.7M324.3 414.7L324.8 415.1M324.8 415.1L325.3 415.5M325.3 415.5L325.7 415.9M325.7 415.9L326.2 416.4M326.2 416.4L326.7 416.9M326.7 416.9L327.2 417.4M327.2 417.4L327.7 418.0M327.7 418.0L328.1 418.5M328.1 418.5L328.6 419.1M328.6 419.1L329.1 419.6M329.1 419.6L329.6 420.2M329.6 420.2L330.1 420.7M330.1 420.7L330.6 421.2M330.6 421.2L331.1 421.7M331.1 421.7L331.6 422.2M331.6 422.2L332.0 422.7M332.0 422.7L332.6 423.1M332.6 423.1L333.1 423.4M333.1 423.4L333.6 423.8M339.2 424.1L339.7 423.8M339.7 423.8L340.3 423.5M340.3 423.5L340.7 423.1M340.7 423.1L341.2 422.7M341.2 422.7L341.7 422.2M341.7 422.2L342.2 421.8M342.2 421.8L342.7 421.2M342.7 421.2L343.2 420.7M343.2 420.7L343.7 420.2M343.7 420.2L344.1 419.6M344.1 419.6L344.6 419.0M344.6 419.0L345.1 418.5M345.1 418.5L345.5 417.9M345.5 417.9L346.0 417.3M346.0 417.3L346.4 416.8M346.4 416.8L346.9 416.3M346.9 416.3L347.3 415.8M347.3 415.8L347.8 415.3M347.8 415.3L348.2 414.8M348.2 414.8L348.7 414.4M348.7 414.4L349.1 414.0M354.3 413.0L354.8 413.2M354.8 413.2L355.3 413.4M355.3 413.4L355.9 413.7M355.9 413.7L356.4 414.0M356.4 414.0L357.0 414.4M357.0 414.4L357.6 414.7M357.6 414.7L358.1 415.1M358.1 415.1L358.7 415.5M358.7 415.5L359.3 416.0M359.3 416.0L359.9 416.4M359.9 416.4L360.4 416.8M360.4 416.8L361.0 417.3M361.0 417.3L361.6 417.7M361.6 417.7L362.2 418.1M362.2 418.1L362.8 418.5M362.8 418.5L363.5 418.9M363.5 418.9L364.0 419.2M364.0 419.2L364.6 419.6M364.6 419.6L365.3 419.8M365.3 419.8L365.8 420.1M365.8 420.1L366.4 420.3M372.1 419.1L372.5 418.7M372.5 418.7L372.9 418.2M372.9 418.2L373.3 417.7M373.3 417.7L373.7 417.1M373.7 417.1L374.0 416.6M374.0 416.6L374.3 416.0M374.3 416.0L374.7 415.4M374.7 415.4L375.0 414.7M375.0 414.7L375.3 414.1M375.3 414.1L375.6 413.4M375.6 413.4L375.9 412.7M375.9 412.7L376.2 412.0M376.2 412.0L376.5 411.4M376.5 411.4L376.7 410.7M376.7 410.7L377.0 410.0M377.0 410.0L377.3 409.4M377.3 409.4L377.6 408.8M377.6 408.8L377.9 408.2M377.9 408.2L378.2 407.7M378.2 407.7L378.5 407.1M378.5 407.1L378.9 406.6M383.8 404.3L384.3 404.4M384.3 404.4L384.9 404.5M384.9 404.5L385.5 404.6M385.5 404.6L386.1 404.8M386.1 404.8L386.8 405.0M386.8 405.0L387.4 405.2M387.4 405.2L388.0 405.5M388.0 405.5L388.7 405.7M388.7 405.7L389.4 406.0M389.4 406.0L390.0 406.3M390.0 406.3L390.7 406.6M390.7 406.6L391.4 406.9M391.4 406.9L392.0 407.2M392.0 407.2L392.7 407.5M392.7 407.5L393.4 407.8M393.4 407.8L394.0 408.1M394.0 408.1L394.7 408.3M394.7 408.3L395.3 408.5M395.3 408.5L395.9 408.7M395.9 408.7L396.5 408.8M396.5 408.8L397.1 408.9M402.3 407.0L402.7 406.5M402.7 406.5L403.0 406.0M403.0 406.0L403.3 405.5M403.3 405.5L403.6 404.9M403.6 404.9L403.9 404.3M403.9 404.3L404.2 403.7M404.2 403.7L404.4 403.0M404.4 403.0L404.7 402.4M404.7 402.4L404.9 401.7M404.9 401.7L405.2 401.0M405.2 401.0L405.4 400.3M405.4 400.3L405.6 399.6M405.6 399.6L405.8 398.9M405.8 398.9L406.1 398.2M406.1 398.2L406.3 397.5M406.3 397.5L406.5 396.9M406.5 396.9L406.8 396.2M406.8 396.2L407.1 395.6M407.1 395.6L407.3 395.1M407.3 395.1L407.6 394.5M407.6 394.5L407.9 394.0M412.7 391.3L413.3 391.4M413.3 391.4L413.9 391.4M413.9 391.4L414.5 391.5M414.5 391.5L415.1 391.7M415.1 391.7L415.7 391.8M415.7 391.8L416.4 392.0M416.4 392.0L417.0 392.3M417.0 392.3L417.7 392.5M417.7 392.5L418.4 392.7M418.4 392.7L419.1 393.0M419.1 393.0L419.7 393.2M419.7 393.2L420.4 393.5M420.4 393.5L421.1 393.8M421.1 393.8L421.8 394.0M421.8 394.0L422.5 394.2M422.5 394.2L423.1 394.4M423.1 394.4L423.8 394.6M423.8 394.6L424.5 394.8M424.5 394.8L425.1 394.9M425.1 394.9L425.7 395.0M425.7 395.0L426.3 395.1M431.4 392.8L431.7 392.3M431.7 392.3L432.0 391.8M432.0 391.8L432.3 391.2M432.3 391.2L432.6 390.6M432.6 390.6L432.8 390.0M432.8 390.0L433.0 389.4M433.0 389.4L433.2 388.7M433.2 388.7L433.4 388.0M433.4 388.0L433.6 387.3M433.6 387.3L433.8 386.6M433.8 386.6L433.9 385.9M433.9 385.9L434.1 385.2M434.1 385.2L434.3 384.5M434.3 384.5L434.5 383.8M434.5 383.8L434.6 383.1M434.6 383.1L434.8 382.4M434.8 382.4L435.0 381.7M435.0 381.7L435.2 381.1M435.2 381.1L435.5 380.5M435.5 380.5L435.7 380.0M435.7 380.0L435.9 379.4M440.4 376.3L440.9 376.3M440.9 376.3L441.5 376.3M441.5 376.3L442.1 376.4M442.1 376.4L442.8 376.5M442.8 376.5L443.4 376.5M443.4 376.5L444.1 376.7M444.1 376.7L444.8 376.8M444.8 376.8L445.4 377.0M445.4 377.0L446.1 377.1M446.1 377.1L446.9 377.3M446.9 377.3L447.6 377.5M447.6 377.5L448.3 377.7M448.3 377.7L449.0 377.8M449.0 377.8L449.7 378.0M449.7 378.0L450.4 378.1M450.4 378.1L451.1 378.3M451.1 378.3L451.8 378.4M451.8 378.4L452.5 378.4M452.5 378.4L453.1 378.5M453.1 378.5L453.7 378.5M453.7 378.5L454.4 378.4M459.1 375.3L459.4 374.8M459.4 374.8L459.9 374.0M459.9 374.0L460.3 373.2M460.3 373.2L460.6 372.4M460.6 372.4L460.9 371.6M460.9 371.6L461.1 370.8M461.1 370.8L461.3 369.9M461.3 369.9L461.5 369.0M461.5 369.0L461.6 368.2M461.6 368.2L461.7 367.3M461.7 367.3L461.7 366.4M461.7 366.4L461.7 365.6M461.7 365.6L461.7 364.8M461.7 364.8L461.6 364.1M461.6 364.1L461.5 363.3M461.5 363.3L461.4 362.6M461.4 362.6L461.3 362.0M461.3 362.0L461.2 361.5M461.2 361.5L461.0 361.0M461.0 361.0L460.8 360.6M461.3 359.6L461.7 359.8M461.7 359.8L462.1 359.9M462.1 359.9L462.6 360.1M462.6 360.1L463.2 360.2M463.2 360.2L463.9 360.4M463.9 360.4L464.6 360.5M464.6 360.5L465.3 360.6M465.3 360.6L466.2 360.6M466.2 360.6L467.0 360.6M467.0 360.6L467.9 360.5M467.9 360.5L468.8 360.4M468.8 360.4L469.7 360.2M469.7 360.2L470.7 359.9M470.7 359.9L471.6 359.5M471.6 359.5L472.5 359.0M472.5 359.0L473.5 358.4M477.3 351.5L477.3 350.3M477.3 350.3L477.2 349.1M477.2 349.1L477.0 348.0M477.0 348.0L476.6 346.8M476.6 346.8L476.2 345.7M476.2 345.7L475.6 344.8M475.6 344.8L475.0 343.9M475.0 343.9L474.3 343.1M474.3 343.1L473.5 342.5M473.5 342.5L472.8 342.0M472.8 342.0L472.1 341.6M472.1 341.6L471.4 341.4M471.4 341.4L470.8 341.3M469.9 342.6L470.2 343.1M470.2 343.1L470.7 343.4M470.7 343.4L471.4 343.8M251.0 401.5L250.8 402.0M250.8 402.0L250.7 402.6M250.7 402.6L250.5 403.2M250.5 403.2L250.4 404.0M250.4 404.0L250.3 404.8M250.3 404.8L250.3 405.7M250.3 405.7L250.4 406.6M250.4 406.6L250.5 407.6M250.5 407.6L250.7 408.6M250.7 408.6L251.0 409.7M251.0 409.7L251.4 410.7M251.4 410.7L251.9 411.6M251.9 411.6L252.5 412.5M252.5 412.5L253.3 413.3M261.3 416.4L262.3 416.3M262.3 416.3L263.1 416.0M263.1 416.0L264.0 415.7M264.0 415.7L264.7 415.4M264.7 415.4L265.5 415.0M265.5 415.0L266.2 414.5M266.2 414.5L266.9 414.0M266.9 414.0L267.5 413.5M267.5 413.5L268.0 413.0M268.0 413.0L268.6 412.5M268.6 412.5L269.1 412.0M269.1 412.0L269.5 411.5M269.5 411.5L270.0 411.0M270.0 411.0L270.4 410.5M270.4 410.5L270.7 410.1M270.7 410.1L271.1 409.6M271.1 409.6L271.4 409.3M271.4 409.3L271.8 409.0M276.1 409.2L276.5 409.5M276.5 409.5L277.0 409.9M277.0 409.9L277.4 410.3M277.4 410.3L277.8 410.8M277.8 410.8L278.3 411.3M278.3 411.3L278.7 411.8M278.7 411.8L279.1 412.4M279.1 412.4L279.6 412.9M279.6 412.9L280.0 413.5M280.0 413.5L280.4 414.1M280.4 414.1L280.8 414.7M280.8 414.7L281.3 415.3M281.3 415.3L281.7 415.9M281.7 415.9L282.1 416.5M282.1 416.5L282.5 417.1M282.5 417.1L283.0 417.6M283.0 417.6L283.4 418.1M283.4 418.1L283.9 418.6M283.9 418.6L284.3 419.1M284.3 419.1L284.8 419.5M284.8 419.5L285.2 419.9M290.7 420.9L291.2 420.7M291.2 420.7L291.8 420.4M291.8 420.4L292.3 420.1M292.3 420.1L292.9 419.8M292.9 419.8L293.4 419.4M293.4 419.4L293.9 419.0M293.9 419.0L294.5 418.6M294.5 418.6L295.0 418.1M295.0 418.1L295.6 417.7M295.6 417.7L296.2 417.2M296.2 417.2L296.7 416.7M296.7 416.7L297.3 416.2M297.3 416.2L297.8 415.8M297.8 415.8L298.4 415.3M298.4 415.3L298.9 414.8M298.9 414.8L299.5 414.4M299.5 414.4L300.0 414.0M300.0 414.0L300.5 413.6M300.5 413.6L301.1 413.2M301.1 413.2L301.6 412.9M301.6 412.9L302.1 412.7M307.6 412.8L308.1 413.2M308.1 413.2L308.5 413.5M308.5 413.5L309.0 413.9M309.0 413.9L309.5 414.4M309.5 414.4L309.9 414.8M309.9 414.8L310.4 415.3M310.4 415.3L310.8 415.9M310.8 415.9L311.3 416.4M311.3 416.4L311.7 417.0M311.7 417.0L312.2 417.5M312.2 417.5L312.6 418.1M312.6 418.1L313.1 418.7M313.1 418.7L313.6 419.3M313.6 419.3L314.0 419.8M314.0 419.8L314.5 420.4M314.5 420.4L314.9 420.9M314.9 420.9L315.4 421.4M315.4 421.4L315.9 421.9M315.9 421.9L316.4 422.3M316.4 422.3L316.8 422.7M316.8 422.7L317.3 423.1M322.9 423.8L323.4 423.5M323.4 423.5L323.9 423.2M323.9 423.2L324.4 422.9M324.4 422.9L325.0 422.5M325.0 422.5L325.5 422.1M325.5 422.1L326.0 421.7M326.0 421.7L326.5 421.2M326.5 421.2L327.1 420.7M327.1 420.7L327.6 420.2M327.6 420.2L328.1 419.7M328.1 419.7L328.6 419.2M328.6 419.2L329.1 418.7M329.1 418.7L329.6 418.2M329.6 418.2L330.2 417.6M330.2 417.6L330.7 417.1M330.7 417.1L331.2 416.7M331.2 416.7L331.7 416.2M331.7 416.2L332.2 415.8M332.2 415.8L332.7 415.4M332.7 415.4L333.2 415.0M333.2 415.0L333.7 414.7M339.0 414.3L339.5 414.6M339.5 414.6L340.0 414.9M340.0 414.9L340.5 415.2M340.5 415.2L341.0 415.6M341.0 415.6L341.5 416.0M341.5 416.0L342.0 416.5M342.0 416.5L342.5 416.9M342.5 416.9L343.0 417.4M343.0 417.4L343.5 417.9M343.5 417.9L344.1 418.4M344.1 418.4L344.6 418.9M344.6 418.9L345.1 419.4M345.1 419.4L345.7 419.9M345.7 419.9L346.2 420.4M346.2 420.4L346.8 420.9M346.8 420.9L347.3 421.3M347.3 421.3L347.9 421.7M347.9 421.7L348.4 422.1M348.4 422.1L349.0 422.5M349.0 422.5L349.5 422.8M349.5 422.8L350.1 423.1M355.8 422.7L356.2 422.3M356.2 422.3L356.7 421.9M356.7 421.9L357.2 421.5M357.2 421.5L357.6 421.0M357.6 421.0L358.0 420.5M358.0 420.5L358.5 420.0M358.5 420.0L358.9 419.4M358.9 419.4L359.3 418.8M359.3 418.8L359.7 418.2M359.7 418.2L360.1 417.6M360.1 417.6L360.5 417.0M360.5 417.0L360.9 416.4M360.9 416.4L361.2 415.7M361.2 415.7L361.6 415.1M361.6 415.1L362.0 414.5M362.0 414.5L362.4 413.9M362.4 413.9L362.8 413.4M362.8 413.4L363.2 412.8M363.2 412.8L363.5 412.3M363.5 412.3L363.9 411.9M363.9 411.9L364.3 411.5M369.2 409.7L369.8 409.8M369.8 409.8L370.3 410.0M370.3 410.0L370.9 410.2M370.9 410.2L371.4 410.4M371.4 410.4L372.0 410.7M372.0 410.7L372.7 411.0M372.7 411.0L373.3 411.3M373.3 411.3L373.9 411.6M373.9 411.6L374.5 411.9M374.5 411.9L375.2 412.2M375.2 412.2L375.8 412.6M375.8 412.6L376.5 412.9M376.5 412.9L377.1 413.2M377.1 413.2L377.8 413.6M377.8 413.6L378.5 413.9M378.5 413.9L379.1 414.1M379.1 414.1L379.8 414.4M379.8 414.4L380.4 414.6M380.4 414.6L381.0 414.8M381.0 414.8L381.6 415.0M381.6 415.0L382.2 415.1M387.5 413.3L387.9 412.9M387.9 412.9L388.2 412.4M388.2 412.4L388.5 411.9M388.5 411.9L388.8 411.3M388.8 411.3L389.1 410.7M389.1 410.7L389.4 410.1M389.4 410.1L389.7 409.5M389.7 409.5L390.0 408.8M390.0 408.8L390.2 408.1M390.2 408.1L390.5 407.5M390.5 407.5L390.7 406.8M390.7 406.8L391.0 406.1M391.0 406.1L391.2 405.4M391.2 405.4L391.5 404.7M391.5 404.7L391.8 404.0M391.8 404.0L392.0 403.4M392.0 403.4L392.3 402.8M392.3 402.8L392.6 402.2M392.6 402.2L392.9 401.6M392.9 401.6L393.2 401.1M393.2 401.1L393.5 400.6M398.3 398.1L398.9 398.1M398.9 398.1L399.5 398.2M399.5 398.2L400.1 398.3M400.1 398.3L400.7 398.5M400.7 398.5L401.3 398.7M401.3 398.7L402.0 398.9M402.0 398.9L402.6 399.1M402.6 399.1L403.3 399.4M403.3 399.4L404.0 399.6M404.0 399.6L404.6 399.9M404.6 399.9L405.3 400.2M405.3 400.2L406.0 400.5M406.0 400.5L406.7 400.7M406.7 400.7L407.4 401.0M407.4 401.0L408.0 401.2M408.0 401.2L408.7 401.5M408.7 401.5L409.3 401.7M409.3 401.7L410.0 401.9M410.0 401.9L410.6 402.0M410.6 402.0L411.2 402.1M411.2 402.1L411.8 402.2M417.0 400.1L417.3 399.7M417.3 399.7L417.6 399.2M417.6 399.2L417.9 398.6M417.9 398.6L418.2 398.0M418.2 398.0L418.5 397.4M418.5 397.4L418.7 396.8M418.7 396.8L418.9 396.1M418.9 396.1L419.2 395.5M419.2 395.5L419.4 394.8M419.4 394.8L419.6 394.1M419.6 394.1L419.8 393.4M419.8 393.4L420.0 392.7M420.0 392.7L420.2 392.0M420.2 392.0L420.4 391.3M420.4 391.3L420.6 390.6M420.6 390.6L420.9 389.9M420.9 389.9L421.1 389.3M421.1 389.3L421.3 388.7M421.3 388.7L421.6 388.1M421.6 388.1L421.9 387.5M421.9 387.5L422.1 387.0M426.8 384.2L427.4 384.2M427.4 384.2L427.9 384.2M427.9 384.2L428.5 384.3M428.5 384.3L429.2 384.4M429.2 384.4L429.8 384.6M429.8 384.6L430.4 384.7M430.4 384.7L431.1 384.9M431.1 384.9L431.8 385.1M431.8 385.1L432.5 385.3M432.5 385.3L433.2 385.5M433.2 385.5L433.9 385.8M433.9 385.8L434.6 386.0M434.6 386.0L435.3 386.2M435.3 386.2L436.0 386.4M436.0 386.4L436.7 386.6M436.7 386.6L437.4 386.8M437.4 386.8L438.0 386.9M438.0 386.9L438.7 387.1M438.7 387.1L439.3 387.2M439.3 387.2L439.9 387.2M439.9 387.2L440.6 387.2M445.5 384.7L445.8 384.1M445.8 384.1L446.1 383.6M446.1 383.6L446.3 383.0M446.3 383.0L446.6 382.4M446.6 382.4L446.8 381.8M446.8 381.8L446.9 381.1M446.9 381.1L447.1 380.5M447.1 380.5L447.2 379.8M447.2 379.8L447.4 379.1M447.4 379.1L447.5 378.3M447.5 378.3L447.6 377.6M447.6 377.6L447.8 376.9M447.8 376.9L447.9 376.2M447.9 376.2L448.0 375.4M448.0 375.4L448.1 374.7M448.1 374.7L448.3 374.1M448.3 374.1L448.4 373.4M448.4 373.4L448.6 372.8M448.6 372.8L448.7 372.2M448.7 372.2L448.9 371.6M448.9 371.6L449.1 371.0M453.2 367.6L453.7 367.5M453.7 367.5L454.0 367.7M454.0 367.7L454.4 367.9M454.4 367.9L454.9 368.0M454.9 368.0L455.3 368.2M455.3 368.2L455.9 368.4M455.9 368.4L456.4 368.6M456.4 368.6L457.0 368.8M457.0 368.8L457.7 369.0M457.7 369.0L458.3 369.2M458.3 369.2L459.0 369.4M459.0 369.4L459.7 369.5M459.7 369.5L460.5 369.6M460.5 369.6L461.3 369.7M461.3 369.7L462.1 369.7M462.1 369.7L462.8 369.7M462.8 369.7L463.7 369.5M463.7 369.5L464.5 369.4M464.5 369.4L465.3 369.1M465.3 369.1L466.1 368.8M471.0 362.6L471.3 361.6M471.3 361.6L471.4 360.6M471.4 360.6L471.4 359.6M471.4 359.6L471.4 358.6M471.4 358.6L471.3 357.6M471.3 357.6L471.1 356.6M471.1 356.6L470.8 355.7M470.8 355.7L470.5 354.8M470.5 354.8L470.2 354.0M470.2 354.0L469.8 353.2M469.8 353.2L469.4 352.5M469.4 352.5L469.0 351.8M469.0 351.8L468.6 351.3M468.6 351.3L468.2 350.8M468.2 350.8L467.8 350.4M467.8 350.4L467.4 350.2M466.8 350.8L467.2 351.2M467.2 351.2L467.7 351.5M467.7 351.5L468.3 351.7M468.3 351.7L469.0 351.9M469.0 351.9L469.9 352.1M469.9 352.1L470.8 352.1M470.8 352.1L471.8 352.1M471.8 352.1L472.9 351.9M472.9 351.9L474.0 351.6M474.0 351.6L475.1 351.2M475.1 351.2L476.1 350.6M476.1 350.6L477.2 349.9M477.2 349.9L478.1 349.0M480.7 343.0L480.7 341.6M480.7 341.6L480.6 340.3M480.6 340.3L480.2 339.0" stroke="#e0302c" stroke-width="2.9" fill="none" stroke-linecap="round"/><path d="M244.0 322.0 L244.8 322.2 L245.7 322.4 L246.6 322.7 L247.6 323.0 L248.7 323.3 L249.9 323.6 L251.1 324.0 L252.4 324.4 L253.8 324.8 L255.2 325.2 L256.7 325.6 L258.2 326.1 L259.8 326.5 L261.5 326.9 L263.2 327.3 L264.9 327.7 L266.7 328.1 L268.5 328.4 L270.3 328.8 L272.2 329.1 L274.1 329.4 L276.0 329.6 L278.0 329.8 L280.0 330.0 L282.0 330.1 L284.2 330.3 L286.4 330.4 L288.7 330.5 L291.1 330.6 L293.5 330.6 L296.0 330.7 L298.5 330.7 L301.1 330.7 L303.7 330.7 L306.3 330.7 L309.0 330.7 L311.7 330.6 L314.4 330.6 L317.0 330.5 L319.7 330.4 L322.4 330.3 L325.0 330.2 L327.6 330.0 L330.2 329.8 L332.7 329.7 L335.2 329.5 L337.6 329.2 L340.0 329.0 L342.3 328.7 L344.6 328.5 L346.9 328.2 L349.2 327.9 L351.5 327.6 L353.8 327.2 L356.0 326.9 L358.2 326.5 L360.4 326.1 L362.6 325.7 L364.8 325.3 L367.0 324.8 L369.2 324.4 L371.3 323.9 L373.4 323.4 L375.6 322.9 L377.7 322.3 L379.8 321.8 L381.8 321.2 L383.9 320.6 L385.9 320.0 L388.0 319.3 L390.0 318.7 L392.0 318.0 L394.0 317.3 L396.0 316.5 L398.0 315.8 L400.0 314.9 L402.0 314.1 L404.0 313.2 L406.0 312.3 L407.9 311.4 L409.9 310.5 L411.8 309.5 L413.7 308.5 L415.6 307.6 L417.5 306.6 L419.3 305.6 L421.2 304.6 L423.0 303.6 L424.7 302.6 L426.5 301.6 L428.1 300.6 L429.8 299.7 L431.4 298.7 L433.0 297.8 L434.5 296.9 L436.0 296.0 L437.4 295.1 L438.8 294.2 L440.2 293.4 L441.5 292.5 L442.8 291.6 L444.1 290.7 L445.3 289.9 L446.5 289.0 L447.7 288.1 L448.8 287.3 L449.9 286.4 L451.0 285.6 L452.0 284.7 L453.1 283.9 L454.1 283.0 L455.0 282.2 L456.0 281.4 L456.9 280.6 L457.8 279.8 L458.7 279.0 L459.5 278.2 L460.4 277.5 L461.2 276.7 L462.0 276.0 L462.8 275.3 L463.5 274.6 L464.2 273.9 L464.9 273.2 L465.5 272.5 L466.1 271.8 L466.7 271.1 L467.3 270.4 L467.8 269.8 L468.3 269.1 L468.8 268.5 L469.3 267.9 L469.8 267.3 L470.2 266.6 L470.6 266.0 L471.0 265.4 L471.4 264.9 L471.8 264.3 L472.2 263.7 L472.6 263.2 L472.9 262.6 L473.3 262.1 L473.6 261.5 L474.0 261.0 L474.3 260.5 L474.7 260.0 L475.0 259.4 L475.3 258.9 L475.6 258.4 L475.9 257.9 L476.1 257.4 L476.4 256.9 L476.6 256.4 L476.8 256.0 L477.0 255.5 L477.2 255.1 L477.4 254.6 L477.6 254.2 L477.8 253.8 L478.0 253.4 L478.1 253.0 L478.3 252.7 L478.4 252.3 L478.5 252.0 L478.7 251.7 L478.8 251.5 L478.9 251.2 L479.0 251.0" stroke="#020d04" stroke-width="11" fill="none" opacity="0.45" filter="url(#blur1)" clip-path="url(#clus)"/><path d="M222.3 283.3L221.2 284.6M229.0 291.6L229.7 291.3" stroke="#791a4e" stroke-width="2.9" fill="none" stroke-linecap="round"/><path d="M221.2 284.6L220.4 286.0M220.4 286.0L219.8 287.6M229.7 291.3L230.3 290.8M230.3 290.8L230.5 290.2" stroke="#791a4d" stroke-width="2.9" fill="none" stroke-linecap="round"/><path d="M219.8 287.6L219.6 289.3M230.5 290.2L230.5 289.5" stroke="#791a4c" stroke-width="2.9" fill="none" stroke-linecap="round"/><path d="M227.6 297.9L228.3 297.5M220.0 290.5L219.1 291.8" stroke="#771946" stroke-width="2.9" fill="none" stroke-linecap="round"/><path d="M228.3 297.5L228.8 297.0M228.8 297.0L229.0 296.4M219.1 291.8L218.4 293.4M218.4 293.4L218.1 295.0" stroke="#771945" stroke-width="2.9" fill="none" stroke-linecap="round"/><path d="M229.0 296.4L228.9 295.7M218.1 295.0L218.0 296.6" stroke="#771944" stroke-width="2.9" fill="none" stroke-linecap="round"/><path d="M228.9 295.7L228.7 295.3M218.0 296.6L218.2 298.0" stroke="#761944" stroke-width="2.9" fill="none" stroke-linecap="round"/><path d="M219.2 302.1L219.3 303.5M219.3 303.5L219.6 304.9M229.7 303.0L230.0 302.5M230.0 302.5L230.1 302.0" stroke="#74183c" stroke-width="2.9" fill="none" stroke-linecap="round"/><path d="M219.6 304.9L220.1 306.2M230.1 302.0L230.1 301.6" stroke="#74183b" stroke-width="2.9" fill="none" stroke-linecap="round"/><path d="M220.1 306.2L220.8 307.4M220.8 307.4L221.6 308.5M230.1 301.6L229.8 301.3M229.8 301.3L229.5 301.1" stroke="#74183a" stroke-width="2.9" fill="none" stroke-linecap="round"/><path d="M221.6 308.5L222.5 309.4M229.5 301.1L229.0 301.0" stroke="#741839" stroke-width="2.9" fill="none" stroke-linecap="round"/><path d="M234.8 309.3L235.0 309.1M225.0 312.4L225.4 313.4" stroke="#711731" stroke-width="2.9" fill="none" stroke-linecap="round"/><path d="M235.0 309.1L235.3 309.0M235.3 309.0L235.4 308.9M225.4 313.4L225.8 314.3M225.8 314.3L226.4 315.1" stroke="#711730" stroke-width="2.9" fill="none" stroke-linecap="round"/><path d="M235.4 308.9L235.4 308.9M226.4 315.1L227.0 315.9" stroke="#71162f" stroke-width="2.9" fill="none" stroke-linecap="round"/><path d="M235.4 308.9L235.4 308.9M227.0 315.9L227.6 316.6" stroke="#70162f" stroke-width="2.9" fill="none" stroke-linecap="round"/><path d="M235.4 308.9L235.3 309.0M227.6 316.6L228.4 317.3" stroke="#70162e" stroke-width="2.9" fill="none" stroke-linecap="round"/><path d="M235.3 309.0L235.1 309.2M235.1 309.2L234.9 309.5M228.4 317.3L229.2 317.9M229.2 317.9L230.0 318.4" stroke="#70162d" stroke-width="2.9" fill="none" stroke-linecap="round"/><path d="M235.3 322.7L235.8 323.4M242.4 316.3L242.7 316.2" stroke="#6d1523" stroke-width="2.9" fill="none" stroke-linecap="round"/><path d="M235.8 323.4L236.5 324.1M242.7 316.2L242.9 315.9" stroke="#6d1522" stroke-width="2.9" fill="none" stroke-linecap="round"/><path d="M236.5 324.1L237.1 324.6M237.1 324.6L237.8 325.2M242.9 315.9L243.2 315.9M243.2 315.9L243.3 315.8" stroke="#6d1521" stroke-width="2.9" fill="none" stroke-linecap="round"/><path d="M237.8 325.2L238.4 325.6M238.4 325.6L239.2 325.9M243.3 315.8L243.6 315.9M243.6 315.9L243.7 315.9" stroke="#6c1520" stroke-width="2.9" fill="none" stroke-linecap="round"/><path d="M239.2 325.9L239.9 326.2M239.9 326.2L240.7 326.4M243.7 315.9L244.0 316.1M244.0 316.1L244.1 316.3" stroke="#6c151f" stroke-width="2.9" fill="none" stroke-linecap="round"/><path d="M240.7 326.4L241.3 326.5M244.1 316.3L244.4 316.6" stroke="#6c151e" stroke-width="2.9" fill="none" stroke-linecap="round"/><path d="M241.3 326.5L242.0 326.5M244.4 316.6L244.6 316.9" stroke="#6c151d" stroke-width="2.9" fill="none" stroke-linecap="round"/><path d="M254.5 320.9L255.0 320.7M255.0 320.7L255.6 320.6M255.6 320.6L256.1 320.6M256.1 320.6L256.6 320.5M256.6 320.5L257.1 320.6M257.1 320.6L257.6 320.7M257.6 320.7L258.0 320.8M258.0 320.8L258.5 321.0M258.5 321.0L258.9 321.2M258.9 321.2L259.3 321.5M259.3 321.5L259.7 321.8M268.1 333.1L268.6 333.5M268.6 333.5L269.1 333.8M269.1 333.8L269.5 334.1M269.5 334.1L270.1 334.3M270.1 334.3L270.5 334.5M270.5 334.5L271.0 334.6M271.0 334.6L271.5 334.6M271.5 334.6L272.1 334.7M272.1 334.7L272.6 334.6M272.6 334.6L273.1 334.5M273.1 334.5L273.7 334.4M285.0 325.8L285.5 325.6M285.5 325.6L286.0 325.3M286.0 325.3L286.5 325.2M286.5 325.2L287.0 325.0M287.0 325.0L287.5 325.0M287.5 325.0L288.0 324.9M288.0 324.9L288.5 325.0M288.5 325.0L288.9 325.0M288.9 325.0L289.4 325.2M289.4 325.2L289.9 325.4M289.9 325.4L290.4 325.6M300.7 335.2L301.2 335.5M301.2 335.5L301.7 335.7M301.7 335.7L302.2 335.9M302.2 335.9L302.7 336.1M302.7 336.1L303.2 336.2M303.2 336.2L303.8 336.2M303.8 336.2L304.3 336.2M304.3 336.2L304.8 336.1M304.8 336.1L305.3 336.0M305.3 336.0L305.8 335.9M305.8 335.9L306.2 335.6M316.6 326.0L317.1 325.7M317.1 325.7L317.5 325.5M317.5 325.5L318.0 325.3M318.0 325.3L318.5 325.1M318.5 325.1L319.0 325.0M319.0 325.0L319.5 324.9M319.5 324.9L320.0 324.9M320.0 324.9L320.5 324.9M320.5 324.9L321.0 325.0M321.0 325.0L321.5 325.2M321.5 325.2L322.0 325.4M333.0 334.1L333.6 334.4M333.6 334.4L334.1 334.6M334.1 334.6L334.6 334.7M334.6 334.7L335.1 334.8M335.1 334.8L335.6 334.9M335.6 334.9L336.2 334.9M336.2 334.9L336.7 334.8M336.7 334.8L337.2 334.7M337.2 334.7L337.7 334.6M337.7 334.6L338.2 334.4M338.2 334.4L338.7 334.1M348.0 323.5L348.5 323.2M348.5 323.2L348.9 322.9M348.9 322.9L349.4 322.6M349.4 322.6L349.8 322.4M349.8 322.4L350.3 322.2M350.3 322.2L350.8 322.1M350.8 322.1L351.3 322.0M351.3 322.0L351.8 322.0M351.8 322.0L352.3 322.1M352.3 322.1L352.8 322.2M352.8 322.2L353.3 322.3M365.2 329.7L365.8 329.9M365.8 329.9L366.4 330.1M366.4 330.1L366.9 330.2M366.9 330.2L367.4 330.2M367.4 330.2L367.9 330.2M367.9 330.2L368.5 330.1M368.5 330.1L369.0 330.0M369.0 330.0L369.4 329.8M369.4 329.8L369.9 329.6M369.9 329.6L370.4 329.3M370.4 329.3L370.8 329.0M378.8 317.4L379.2 317.0M379.2 317.0L379.6 316.6M379.6 316.6L380.0 316.3M380.0 316.3L380.4 316.0M380.4 316.0L380.9 315.8M380.9 315.8L381.3 315.6M381.3 315.6L381.8 315.5M381.8 315.5L382.3 315.4M382.3 315.4L382.8 315.4M382.8 315.4L383.3 315.4M383.3 315.4L383.8 315.5M396.8 321.0L397.3 321.1M397.3 321.1L398.0 321.2M398.0 321.2L398.5 321.2M398.5 321.2L399.0 321.1M399.0 321.1L399.5 321.0M399.5 321.0L400.0 320.9M400.0 320.9L400.5 320.7M400.5 320.7L401.0 320.4M401.0 320.4L401.4 320.1M401.4 320.1L401.8 319.8M401.8 319.8L402.2 319.4M407.9 306.4L408.2 306.0M408.2 306.0L408.6 305.5M408.6 305.5L408.9 305.1M408.9 305.1L409.3 304.8M409.3 304.8L409.7 304.5M409.7 304.5L410.1 304.2M410.1 304.2L410.5 304.0M410.5 304.0L411.0 303.8M411.0 303.8L411.5 303.7M411.5 303.7L412.0 303.7M412.0 303.7L412.5 303.6M426.2 306.9L426.8 306.9M426.8 306.9L427.4 306.9M427.4 306.9L427.9 306.8M427.9 306.8L428.4 306.7M428.4 306.7L428.9 306.5M428.9 306.5L429.4 306.3M429.4 306.3L429.8 306.0M429.8 306.0L430.2 305.7M430.2 305.7L430.6 305.4M430.6 305.4L430.9 305.0M430.9 305.0L431.3 304.5M435.4 291.1L435.7 290.6M435.7 290.6L436.0 290.1M436.0 290.1L436.3 289.7M436.3 289.7L436.6 289.3M436.6 289.3L437.0 289.0M437.0 289.0L437.3 288.7M437.3 288.7L437.7 288.4M437.7 288.4L438.2 288.2M438.2 288.2L438.6 288.1M438.6 288.1L439.1 287.9M439.1 287.9L439.7 287.8M453.6 289.2L454.3 289.1M454.3 289.1L454.8 288.9M454.8 288.9L455.3 288.8M455.3 288.8L455.8 288.5M455.8 288.5L456.3 288.3M456.3 288.3L456.7 288.0M456.7 288.0L457.1 287.7M457.1 287.7L457.4 287.3M457.4 287.3L457.8 286.9M457.8 286.9L458.1 286.4M458.1 286.4L458.3 285.9M460.5 270.9L460.5 270.5M460.5 270.5L460.5 270.2M460.5 270.2L460.5 269.9M460.5 269.9L460.5 269.8M460.5 269.8L460.7 269.6M460.7 269.6L460.8 269.6M460.8 269.6L461.0 269.6M461.0 269.6L461.2 269.7M461.2 269.7L461.5 269.7M473.4 269.9L474.3 269.4M474.3 269.4L475.1 268.7M475.1 268.7L475.8 268.0M475.8 268.0L476.5 267.2M476.5 267.2L477.1 266.3M477.1 266.3L477.6 265.3M477.6 265.3L478.0 264.3M478.0 264.3L478.3 263.2M473.5 252.4L472.9 252.4M472.9 252.4L472.5 252.6M472.5 252.6L472.3 252.8M472.3 252.8L472.1 253.1M472.1 253.1L472.2 253.5M472.2 253.5L472.4 254.0M251.9 329.4L252.4 329.9M252.4 329.9L252.8 330.2M252.8 330.2L253.2 330.6M253.2 330.6L253.7 330.9M253.7 330.9L254.2 331.1M254.2 331.1L254.6 331.3M254.6 331.3L255.2 331.4M255.2 331.4L255.7 331.5M255.7 331.5L256.2 331.5M256.2 331.5L256.8 331.5M256.8 331.5L257.3 331.4M269.5 324.3L270.0 324.1M270.0 324.1L270.6 323.9M270.6 323.9L271.1 323.8M271.1 323.8L271.5 323.7M271.5 323.7L272.0 323.7M272.0 323.7L272.5 323.7M272.5 323.7L273.0 323.8M273.0 323.8L273.4 323.9M273.4 323.9L273.9 324.1M273.9 324.1L274.4 324.3M274.4 324.3L274.8 324.6M284.5 334.8L285.0 335.1M285.0 335.1L285.5 335.3M285.5 335.3L286.0 335.6M286.0 335.6L286.5 335.7M286.5 335.7L287.0 335.9M287.0 335.9L287.5 335.9M287.5 335.9L288.0 335.9M288.0 335.9L288.5 335.9M288.5 335.9L289.0 335.8M289.0 335.8L289.6 335.6M289.6 335.6L290.1 335.4M300.8 326.2L301.2 326.0M301.2 326.0L301.7 325.7M301.7 325.7L302.2 325.5M302.2 325.5L302.7 325.4M302.7 325.4L303.2 325.3M303.2 325.3L303.7 325.2M303.7 325.2L304.2 325.2M304.2 325.2L304.7 325.3M304.7 325.3L305.2 325.4M305.2 325.4L305.7 325.6M305.7 325.6L306.2 325.8M316.9 335.0L317.4 335.3M317.4 335.3L317.9 335.5M317.9 335.5L318.4 335.7M318.4 335.7L318.9 335.8M318.9 335.8L319.4 335.9M319.4 335.9L320.0 335.9M320.0 335.9L320.5 335.9M320.5 335.9L321.0 335.8M321.0 335.8L321.4 335.6M321.4 335.6L321.9 335.5M321.9 335.5L322.4 335.2M332.4 325.2L332.8 324.9M332.8 324.9L333.3 324.6M333.3 324.6L333.8 324.4M333.8 324.4L334.3 324.2M334.3 324.2L334.7 324.0M334.7 324.0L335.2 323.9M335.2 323.9L335.7 323.9M335.7 323.9L336.2 323.9M336.2 323.9L336.7 324.0M336.7 324.0L337.2 324.1M337.2 324.1L337.7 324.3M349.2 332.4L349.7 332.6M349.7 332.6L350.3 332.8M350.3 332.8L350.8 332.9M350.8 332.9L351.3 333.0M351.3 333.0L351.8 333.0M351.8 333.0L352.4 333.0M352.4 333.0L352.9 332.9M352.9 332.9L353.4 332.8M353.4 332.8L353.9 332.6M353.9 332.6L354.3 332.3M354.3 332.3L354.8 332.0M363.5 320.9L363.9 320.6M363.9 320.6L364.4 320.2M364.4 320.2L364.8 319.9M364.8 319.9L365.3 319.7M365.3 319.7L365.7 319.5M365.7 319.5L366.2 319.4M366.2 319.4L366.7 319.3M366.7 319.3L367.2 319.2M367.2 319.2L367.7 319.2M367.7 319.2L368.2 319.3M368.2 319.3L368.7 319.4M381.2 326.0L381.7 326.2M381.7 326.2L382.3 326.3M382.3 326.3L382.8 326.3M382.8 326.3L383.4 326.3M383.4 326.3L383.9 326.3M383.9 326.3L384.4 326.2M384.4 326.2L384.9 326.0M384.9 326.0L385.3 325.8M385.3 325.8L385.8 325.5M385.8 325.5L386.3 325.2M386.3 325.2L386.7 324.9M393.6 312.7L394.0 312.2M394.0 312.2L394.3 311.8M394.3 311.8L394.7 311.5M394.7 311.5L395.1 311.1M395.1 311.1L395.6 310.9M395.6 310.9L396.0 310.6M396.0 310.6L396.4 310.5M396.4 310.5L396.9 310.4M396.9 310.4L397.4 310.3M397.4 310.3L397.9 310.2M397.9 310.2L398.4 310.3M411.8 314.5L412.4 314.5M412.4 314.5L413.0 314.5M413.0 314.5L413.5 314.5M413.5 314.5L414.0 314.4M414.0 314.4L414.6 314.2M414.6 314.2L415.0 314.0M415.0 314.0L415.5 313.8M415.5 313.8L415.9 313.5M415.9 313.5L416.3 313.2M416.3 313.2L416.7 312.8M416.7 312.8L417.0 312.4M421.8 299.1L422.1 298.6M422.1 298.6L422.4 298.2M422.4 298.2L422.7 297.7M422.7 297.7L423.1 297.4M423.1 297.4L423.5 297.0M423.5 297.0L423.9 296.8M423.9 296.8L424.3 296.5M424.3 296.5L424.8 296.3M424.8 296.3L425.3 296.2M425.3 296.2L425.8 296.1M425.8 296.1L426.3 296.0M440.2 298.7L440.8 298.7M440.8 298.7L441.3 298.6M441.3 298.6L441.9 298.5M441.9 298.5L442.4 298.3M442.4 298.3L442.9 298.1M442.9 298.1L443.4 297.9M443.4 297.9L443.8 297.6M443.8 297.6L444.2 297.3M444.2 297.3L444.6 296.9M444.6 296.9L444.9 296.4M444.9 296.4L445.2 296.0M448.1 282.2L448.3 281.6M448.3 281.6L448.5 281.1M448.5 281.1L448.8 280.7M448.8 280.7L449.0 280.3M449.0 280.3L449.4 279.9M449.4 279.9L449.7 279.6M449.7 279.6L450.1 279.2M450.1 279.2L450.5 279.0M450.5 279.0L450.9 278.8M450.9 278.8L451.4 278.6M451.4 278.6L451.9 278.4M465.3 279.4L466.0 279.1M466.0 279.1L466.8 278.7M466.8 278.7L467.4 278.3M467.4 278.3L468.1 277.7M468.1 277.7L468.7 277.1M468.7 277.1L469.3 276.4M469.3 276.4L469.8 275.7M469.8 275.7L470.2 274.9M470.2 274.9L470.6 274.1M468.5 261.2L468.2 261.0M468.2 261.0L467.9 260.8M467.9 260.8L467.7 260.7M467.7 260.7L467.6 260.7M467.6 260.7L467.6 260.7M467.6 260.7L467.6 260.9M467.6 260.9L467.8 261.1M467.8 261.1L468.1 261.3M479.5 260.9L480.5 260.0M480.5 260.0L481.3 259.0M481.3 259.0L482.0 257.9M482.0 257.9L482.5 256.6M482.5 256.6L482.9 255.3M482.9 255.3L483.1 254.0" stroke="#6a1418" stroke-width="2.9" fill="none" stroke-linecap="round"/><path d="M226.0 280.9L224.7 281.5M224.7 281.5L223.4 282.3M226.0 291.1L227.1 291.5M227.1 291.5L228.1 291.6" stroke="#d03a63" stroke-width="2.9" fill="none" stroke-linecap="round"/><path d="M223.4 282.3L222.3 283.3M228.1 291.6L229.0 291.6" stroke="#d03a62" stroke-width="2.9" fill="none" stroke-linecap="round"/><path d="M219.6 289.3L219.6 290.9M219.6 290.9L220.0 292.5M230.5 289.5L230.2 288.8M230.2 288.8L229.5 288.1" stroke="#d1395f" stroke-width="2.9" fill="none" stroke-linecap="round"/><path d="M220.0 292.5L220.6 294.0M220.6 294.0L221.4 295.2M229.5 288.1L228.6 287.6M228.6 287.6L227.5 287.3" stroke="#d2395e" stroke-width="2.9" fill="none" stroke-linecap="round"/><path d="M221.4 295.2L222.4 296.3M222.4 296.3L223.4 297.1M227.5 287.3L226.3 287.2M226.3 287.2L225.0 287.4" stroke="#d2395d" stroke-width="2.9" fill="none" stroke-linecap="round"/><path d="M223.4 297.1L224.6 297.7M225.0 287.4L223.6 287.8" stroke="#d2395c" stroke-width="2.9" fill="none" stroke-linecap="round"/><path d="M224.6 297.7L225.7 298.0M223.6 287.8L222.3 288.5" stroke="#d2385b" stroke-width="2.9" fill="none" stroke-linecap="round"/><path d="M225.7 298.0L226.7 298.0M222.3 288.5L221.0 289.4" stroke="#d3385b" stroke-width="2.9" fill="none" stroke-linecap="round"/><path d="M226.7 298.0L227.6 297.9M221.0 289.4L220.0 290.5" stroke="#d3385a" stroke-width="2.9" fill="none" stroke-linecap="round"/><path d="M228.7 295.3L228.1 294.7M218.2 298.0L218.7 299.6" stroke="#d43857" stroke-width="2.9" fill="none" stroke-linecap="round"/><path d="M228.1 294.7L227.3 294.3M218.7 299.6L219.5 301.0" stroke="#d43856" stroke-width="2.9" fill="none" stroke-linecap="round"/><path d="M227.3 294.3L226.3 294.1M219.5 301.0L220.6 302.3" stroke="#d43756" stroke-width="2.9" fill="none" stroke-linecap="round"/><path d="M226.3 294.1L225.1 294.1M225.1 294.1L223.9 294.4M220.6 302.3L221.8 303.2M221.8 303.2L223.2 303.9" stroke="#d43755" stroke-width="2.9" fill="none" stroke-linecap="round"/><path d="M223.9 294.4L222.8 295.0M222.8 295.0L221.8 295.9M223.2 303.9L224.4 304.3M224.4 304.3L225.6 304.4" stroke="#d53754" stroke-width="2.9" fill="none" stroke-linecap="round"/><path d="M221.8 295.9L220.9 296.9M225.6 304.4L226.8 304.4" stroke="#d53753" stroke-width="2.9" fill="none" stroke-linecap="round"/><path d="M220.9 296.9L220.2 298.1M220.2 298.1L219.7 299.4M226.8 304.4L227.8 304.1M227.8 304.1L228.6 303.8" stroke="#d53752" stroke-width="2.9" fill="none" stroke-linecap="round"/><path d="M219.7 299.4L219.4 300.7M228.6 303.8L229.2 303.5" stroke="#d53751" stroke-width="2.9" fill="none" stroke-linecap="round"/><path d="M219.4 300.7L219.2 302.1M229.2 303.5L229.7 303.0" stroke="#d63751" stroke-width="2.9" fill="none" stroke-linecap="round"/><path d="M222.5 309.4L223.6 310.2M229.0 301.0L228.5 301.2" stroke="#d7364d" stroke-width="2.9" fill="none" stroke-linecap="round"/><path d="M223.6 310.2L224.6 310.7M224.6 310.7L225.8 311.2M228.5 301.2L228.0 301.4M228.0 301.4L227.3 301.8" stroke="#d7364c" stroke-width="2.9" fill="none" stroke-linecap="round"/><path d="M225.8 311.2L226.9 311.5M227.3 301.8L226.7 302.4" stroke="#d7364b" stroke-width="2.9" fill="none" stroke-linecap="round"/><path d="M226.9 311.5L228.1 311.6M228.1 311.6L229.2 311.6M226.7 302.4L226.2 303.1M226.2 303.1L225.6 303.9" stroke="#d7354a" stroke-width="2.9" fill="none" stroke-linecap="round"/><path d="M229.2 311.6L230.2 311.5M230.2 311.5L231.1 311.4M225.6 303.9L225.2 304.8M225.2 304.8L224.9 305.8" stroke="#d83549" stroke-width="2.9" fill="none" stroke-linecap="round"/><path d="M231.1 311.4L232.0 311.1M232.0 311.1L232.8 310.7M224.9 305.8L224.6 306.8M224.6 306.8L224.4 308.0" stroke="#d83548" stroke-width="2.9" fill="none" stroke-linecap="round"/><path d="M232.8 310.7L233.4 310.4M224.4 308.0L224.4 309.1" stroke="#d83547" stroke-width="2.9" fill="none" stroke-linecap="round"/><path d="M233.4 310.4L234.0 310.0M224.4 309.1L224.5 310.2" stroke="#d83546" stroke-width="2.9" fill="none" stroke-linecap="round"/><path d="M234.0 310.0L234.4 309.7M224.5 310.2L224.7 311.3" stroke="#d93546" stroke-width="2.9" fill="none" stroke-linecap="round"/><path d="M234.4 309.7L234.8 309.3M224.7 311.3L225.0 312.4" stroke="#d93545" stroke-width="2.9" fill="none" stroke-linecap="round"/><path d="M234.9 309.5L234.7 309.8M234.7 309.8L234.5 310.2M230.0 318.4L230.9 318.8M230.9 318.8L231.8 319.1" stroke="#da3440" stroke-width="2.9" fill="none" stroke-linecap="round"/><path d="M234.5 310.2L234.2 310.8M234.2 310.8L233.9 311.4M231.8 319.1L232.8 319.3M232.8 319.3L233.8 319.5" stroke="#db333f" stroke-width="2.9" fill="none" stroke-linecap="round"/><path d="M233.9 311.4L233.7 312.0M233.8 319.5L234.6 319.5" stroke="#db333e" stroke-width="2.9" fill="none" stroke-linecap="round"/><path d="M233.7 312.0L233.4 312.8M233.4 312.8L233.2 313.6M234.6 319.5L235.6 319.5M235.6 319.5L236.5 319.4" stroke="#db333d" stroke-width="2.9" fill="none" stroke-linecap="round"/><path d="M233.2 313.6L233.1 314.5M236.5 319.4L237.4 319.2" stroke="#db333c" stroke-width="2.9" fill="none" stroke-linecap="round"/><path d="M233.1 314.5L233.1 315.3M237.4 319.2L238.1 319.0" stroke="#dc333c" stroke-width="2.9" fill="none" stroke-linecap="round"/><path d="M233.1 315.3L233.1 316.3M233.1 316.3L233.1 317.3M238.1 319.0L238.9 318.7M238.9 318.7L239.6 318.3" stroke="#dc333b" stroke-width="2.9" fill="none" stroke-linecap="round"/><path d="M233.1 317.3L233.3 318.2M239.6 318.3L240.2 318.0" stroke="#dc323a" stroke-width="2.9" fill="none" stroke-linecap="round"/><path d="M233.3 318.2L233.6 319.2M233.6 319.2L233.9 320.2M240.2 318.0L240.8 317.6M240.8 317.6L241.3 317.2" stroke="#dc3239" stroke-width="2.9" fill="none" stroke-linecap="round"/><path d="M233.9 320.2L234.2 321.0M241.3 317.2L241.7 317.0" stroke="#dc3238" stroke-width="2.9" fill="none" stroke-linecap="round"/><path d="M234.2 321.0L234.7 321.9M241.7 317.0L242.1 316.6" stroke="#dd3238" stroke-width="2.9" fill="none" stroke-linecap="round"/><path d="M234.7 321.9L235.3 322.7M242.1 316.6L242.4 316.3" stroke="#dd3237" stroke-width="2.9" fill="none" stroke-linecap="round"/><path d="M242.0 326.5L242.6 326.5M244.6 316.9L244.9 317.4" stroke="#df3131" stroke-width="2.9" fill="none" stroke-linecap="round"/><path d="M242.6 326.5L243.2 326.4M243.2 326.4L243.6 326.1M244.9 317.4L245.3 317.8M245.3 317.8L245.8 318.4" stroke="#df3130" stroke-width="2.9" fill="none" stroke-linecap="round"/><path d="M243.6 326.1L243.9 325.8M245.8 318.4L246.4 319.0" stroke="#df312f" stroke-width="2.9" fill="none" stroke-linecap="round"/><path d="M243.9 325.8L244.5 325.6M246.4 319.0L246.7 319.6" stroke="#df302f" stroke-width="2.9" fill="none" stroke-linecap="round"/><path d="M244.5 325.6L245.2 325.4M246.7 319.6L247.1 320.2" stroke="#df302e" stroke-width="2.9" fill="none" stroke-linecap="round"/><path d="M245.2 325.4L245.8 325.1M245.8 325.1L246.5 324.8M247.1 320.2L247.4 320.8M247.4 320.8L247.7 321.5" stroke="#e0302d" stroke-width="2.9" fill="none" stroke-linecap="round"/><path d="M246.5 324.8L247.1 324.5M247.1 324.5L247.8 324.1M247.8 324.1L248.4 323.8M248.4 323.8L249.1 323.4M249.1 323.4L249.7 323.1M249.7 323.1L250.3 322.7M250.3 322.7L251.0 322.4M251.0 322.4L251.6 322.1M251.6 322.1L252.2 321.8M252.2 321.8L252.8 321.5M252.8 321.5L253.4 321.3M253.4 321.3L254.0 321.0M254.0 321.0L254.5 320.9M259.7 321.8L260.2 322.2M260.2 322.2L260.5 322.6M260.5 322.6L260.9 323.1M260.9 323.1L261.3 323.6M261.3 323.6L261.7 324.1M261.7 324.1L262.1 324.6M262.1 324.6L262.4 325.2M262.4 325.2L262.8 325.8M262.8 325.8L263.2 326.4M263.2 326.4L263.6 327.0M263.6 327.0L263.9 327.6M263.9 327.6L264.3 328.3M264.3 328.3L264.7 328.9M264.7 328.9L265.1 329.5M265.1 329.5L265.5 330.1M265.5 330.1L265.9 330.7M265.9 330.7L266.3 331.2M266.3 331.2L266.8 331.8M266.8 331.8L267.2 332.3M267.2 332.3L267.6 332.7M267.6 332.7L268.1 333.1M273.7 334.4L274.3 334.2M274.3 334.2L274.8 333.9M274.8 333.9L275.3 333.6M275.3 333.6L275.9 333.3M275.9 333.3L276.5 332.9M276.5 332.9L277.0 332.5M277.0 332.5L277.5 332.1M277.5 332.1L278.1 331.6M278.1 331.6L278.6 331.1M278.6 331.1L279.2 330.6M279.2 330.6L279.7 330.2M279.7 330.2L280.3 329.6M280.3 329.6L280.8 329.1M280.8 329.1L281.3 328.7M281.3 328.7L281.9 328.2M281.9 328.2L282.4 327.7M282.4 327.7L282.9 327.3M282.9 327.3L283.4 326.9M283.4 326.9L284.0 326.5M284.0 326.5L284.4 326.1M284.4 326.1L285.0 325.8M290.4 325.6L290.9 325.9M290.9 325.9L291.3 326.2M291.3 326.2L291.8 326.6M291.8 326.6L292.3 327.0M292.3 327.0L292.8 327.4M292.8 327.4L293.3 327.9M293.3 327.9L293.8 328.4M293.8 328.4L294.3 328.9M294.3 328.9L294.8 329.4M294.8 329.4L295.2 329.9M295.2 329.9L295.7 330.5M295.7 330.5L296.2 331.0M296.2 331.0L296.7 331.6M296.7 331.6L297.2 332.1M297.2 332.1L297.7 332.6M297.7 332.6L298.2 333.1M298.2 333.1L298.7 333.6M298.7 333.6L299.2 334.1M299.2 334.1L299.7 334.5M299.7 334.5L300.2 334.9M300.2 334.9L300.7 335.2M306.2 335.6L306.8 335.4M306.8 335.4L307.3 335.1M307.3 335.1L307.8 334.7M307.8 334.7L308.3 334.3M308.3 334.3L308.8 333.9M308.8 333.9L309.3 333.4M309.3 333.4L309.8 332.9M309.8 332.9L310.3 332.4M310.3 332.4L310.7 331.9M310.7 331.9L311.2 331.4M311.2 331.4L311.7 330.8M311.7 330.8L312.2 330.3M312.2 330.3L312.7 329.7M312.7 329.7L313.2 329.2M313.2 329.2L313.7 328.7M313.7 328.7L314.2 328.1M314.2 328.1L314.6 327.7M314.6 327.7L315.1 327.2M315.1 327.2L315.6 326.8M315.6 326.8L316.1 326.4M316.1 326.4L316.6 326.0M322.0 325.4L322.5 325.6M322.5 325.6L323.0 325.9M323.0 325.9L323.5 326.2M323.5 326.2L324.0 326.6M324.0 326.6L324.6 327.0M324.6 327.0L325.1 327.4M325.1 327.4L325.6 327.9M325.6 327.9L326.1 328.3M326.1 328.3L326.6 328.8M326.6 328.8L327.2 329.3M327.2 329.3L327.7 329.8M327.7 329.8L328.2 330.3M328.2 330.3L328.8 330.8M328.8 330.8L329.3 331.3M329.3 331.3L329.8 331.8M329.8 331.8L330.4 332.3M330.4 332.3L330.9 332.7M330.9 332.7L331.4 333.1M331.4 333.1L332.0 333.5M332.0 333.5L332.5 333.8M332.5 333.8L333.0 334.1M338.7 334.1L339.1 333.8M339.1 333.8L339.6 333.4M339.6 333.4L340.1 333.0M340.1 333.0L340.6 332.6M340.6 332.6L341.0 332.1M341.0 332.1L341.5 331.6M341.5 331.6L341.9 331.1M341.9 331.1L342.4 330.5M342.4 330.5L342.8 329.9M342.8 329.9L343.2 329.4M343.2 329.4L343.7 328.8M343.7 328.8L344.1 328.2M344.1 328.2L344.5 327.6M344.5 327.6L345.0 327.0M345.0 327.0L345.4 326.4M345.4 326.4L345.8 325.9M345.8 325.9L346.3 325.3M346.3 325.3L346.7 324.8M346.7 324.8L347.1 324.4M347.1 324.4L347.6 323.9M347.6 323.9L348.0 323.5M353.3 322.3L353.8 322.5M353.8 322.5L354.4 322.7M354.4 322.7L354.9 323.0M354.9 323.0L355.4 323.3M355.4 323.3L356.0 323.6M356.0 323.6L356.6 324.0M356.6 324.0L357.1 324.4M357.1 324.4L357.7 324.8M357.7 324.8L358.3 325.2M358.3 325.2L358.9 325.6M358.9 325.6L359.4 326.1M359.4 326.1L360.0 326.5M360.0 326.5L360.6 327.0M360.6 327.0L361.2 327.4M361.2 327.4L361.8 327.8M361.8 327.8L362.4 328.2M362.4 328.2L363.0 328.6M363.0 328.6L363.6 328.9M363.6 328.9L364.1 329.2M364.1 329.2L364.7 329.5M364.7 329.5L365.2 329.7M370.8 329.0L371.3 328.7M371.3 328.7L371.7 328.2M371.7 328.2L372.1 327.8M372.1 327.8L372.5 327.3M372.5 327.3L372.9 326.8M372.9 326.8L373.3 326.2M373.3 326.2L373.7 325.6M373.7 325.6L374.1 325.0M374.1 325.0L374.5 324.4M374.5 324.4L374.8 323.8M374.8 323.8L375.2 323.1M375.2 323.1L375.5 322.5M375.5 322.5L375.9 321.8M375.9 321.8L376.2 321.2M376.2 321.2L376.6 320.6M376.6 320.6L376.9 320.0M376.9 320.0L377.3 319.4M377.3 319.4L377.7 318.8M377.7 318.8L378.0 318.3M378.0 318.3L378.4 317.8M378.4 317.8L378.8 317.4M383.8 315.5L384.4 315.6M384.4 315.6L384.9 315.7M384.9 315.7L385.5 315.9M385.5 315.9L386.1 316.1M386.1 316.1L386.7 316.4M386.7 316.4L387.3 316.7M387.3 316.7L387.9 317.0M387.9 317.0L388.5 317.3M388.5 317.3L389.2 317.6M389.2 317.6L389.8 318.0M389.8 318.0L390.4 318.3M390.4 318.3L391.1 318.7M391.1 318.7L391.7 319.0M391.7 319.0L392.4 319.4M392.4 319.4L393.0 319.7M393.0 319.7L393.7 320.0M393.7 320.0L394.3 320.3M394.3 320.3L394.9 320.5M394.9 320.5L395.6 320.7M395.6 320.7L396.2 320.9M396.2 320.9L396.8 321.0M402.2 319.4L402.6 318.9M402.6 318.9L402.9 318.4M402.9 318.4L403.3 317.9M403.3 317.9L403.6 317.3M403.6 317.3L403.9 316.8M403.9 316.8L404.2 316.1M404.2 316.1L404.4 315.5M404.4 315.5L404.7 314.8M404.7 314.8L405.0 314.1M405.0 314.1L405.2 313.5M405.2 313.5L405.4 312.8M405.4 312.8L405.7 312.1M405.7 312.1L405.9 311.4M405.9 311.4L406.1 310.7M406.1 310.7L406.3 310.0M406.3 310.0L406.6 309.3M406.6 309.3L406.8 308.7M406.8 308.7L407.1 308.1M407.1 308.1L407.3 307.5M407.3 307.5L407.6 307.0M407.6 307.0L407.9 306.4M412.5 303.6L413.1 303.6M413.1 303.6L413.6 303.7M413.6 303.7L414.2 303.8M414.2 303.8L414.9 303.9M414.9 303.9L415.5 304.0M415.5 304.0L416.2 304.2M416.2 304.2L416.8 304.4M416.8 304.4L417.5 304.6M417.5 304.6L418.2 304.8M418.2 304.8L418.9 305.0M418.9 305.0L419.6 305.3M419.6 305.3L420.3 305.5M420.3 305.5L421.0 305.7M421.0 305.7L421.6 306.0M421.6 306.0L422.3 306.2M422.3 306.2L423.0 306.3M423.0 306.3L423.7 306.5M423.7 306.5L424.3 306.7M424.3 306.7L425.0 306.8M425.0 306.8L425.6 306.9M425.6 306.9L426.2 306.9M431.3 304.5L431.6 304.0M431.6 304.0L431.9 303.5M431.9 303.5L432.1 303.0M432.1 303.0L432.4 302.4M432.4 302.4L432.6 301.8M432.6 301.8L432.8 301.1M432.8 301.1L433.0 300.4M433.0 300.4L433.1 299.8M433.1 299.8L433.3 299.1M433.3 299.1L433.5 298.3M433.5 298.3L433.6 297.6M433.6 297.6L433.8 296.9M433.8 296.9L433.9 296.2M433.9 296.2L434.1 295.5M434.1 295.5L434.3 294.8M434.3 294.8L434.4 294.1M434.4 294.1L434.6 293.4M434.6 293.4L434.8 292.8M434.8 292.8L435.0 292.2M435.0 292.2L435.2 291.6M435.2 291.6L435.4 291.1M439.7 287.8L440.2 287.8M440.2 287.8L440.8 287.7M440.8 287.7L441.4 287.7M441.4 287.7L442.0 287.8M442.0 287.8L442.6 287.9M442.6 287.9L443.3 287.9M443.3 287.9L444.0 288.0M444.0 288.0L444.7 288.2M444.7 288.2L445.4 288.3M445.4 288.3L446.1 288.4M446.1 288.4L446.8 288.6M446.8 288.6L447.5 288.7M447.5 288.7L448.3 288.8M448.3 288.8L449.0 288.9M449.0 288.9L449.7 289.1M449.7 289.1L450.4 289.1M450.4 289.1L451.1 289.2M451.1 289.2L451.8 289.2M451.8 289.2L452.4 289.2M452.4 289.2L453.1 289.2M453.1 289.2L453.6 289.2M458.3 285.9L458.5 285.4M458.5 285.4L458.7 284.8M458.7 284.8L458.9 284.2M458.9 284.2L459.0 283.6M459.0 283.6L459.1 282.9M459.1 282.9L459.5 282.0M459.5 282.0L459.8 281.1M459.8 281.1L460.0 280.2M460.0 280.2L460.2 279.3M460.2 279.3L460.3 278.4M460.3 278.4L460.4 277.6M460.4 277.6L460.5 276.8M460.5 276.8L460.6 275.9M460.6 275.9L460.6 275.2M460.6 275.2L460.6 274.4M460.6 274.4L460.6 273.7M460.6 273.7L460.6 273.0M460.6 273.0L460.6 272.4M460.6 272.4L460.6 271.8M460.6 271.8L460.6 271.3M460.6 271.3L460.5 270.9M461.5 269.7L461.8 269.9M461.8 269.9L462.2 270.1M462.2 270.1L462.7 270.3M462.7 270.3L463.3 270.5M463.3 270.5L463.9 270.7M463.9 270.7L464.6 270.9M464.6 270.9L465.3 271.1M465.3 271.1L466.1 271.2M466.1 271.2L466.9 271.3M466.9 271.3L467.8 271.3M467.8 271.3L468.7 271.3M468.7 271.3L469.7 271.2M469.7 271.2L470.6 271.0M470.6 271.0L471.6 270.7M471.6 270.7L472.5 270.4M472.5 270.4L473.4 269.9M478.3 263.2L478.4 262.2M478.4 262.2L478.5 261.1M478.5 261.1L478.5 259.9M478.5 259.9L478.4 258.8M478.4 258.8L478.1 257.7M478.1 257.7L477.7 256.6M477.7 256.6L477.2 255.6M477.2 255.6L476.6 254.7M476.6 254.7L476.1 254.0M476.1 254.0L475.4 253.4M475.4 253.4L474.7 252.9M474.7 252.9L474.1 252.6M474.1 252.6L473.5 252.4M472.4 254.0L472.8 254.4M472.8 254.4L473.4 254.8M473.4 254.8L474.1 255.2M474.1 255.2L475.0 255.4M475.0 255.4L476.0 255.6M476.0 255.6L477.0 255.5M247.7 321.5L247.9 322.1M247.9 322.1L248.2 322.8M248.2 322.8L248.5 323.5M248.5 323.5L248.8 324.1M248.8 324.1L249.1 324.8M249.1 324.8L249.5 325.5M249.5 325.5L249.8 326.1M249.8 326.1L250.1 326.7M250.1 326.7L250.4 327.3M250.4 327.3L250.8 327.9M250.8 327.9L251.2 328.5M251.2 328.5L251.6 329.0M251.6 329.0L251.9 329.4M257.3 331.4L257.9 331.2M257.9 331.2L258.5 331.1M258.5 331.1L259.1 330.9M259.1 330.9L259.6 330.6M259.6 330.6L260.3 330.3M260.3 330.3L260.9 330.0M260.9 330.0L261.4 329.6M261.4 329.6L262.1 329.2M262.1 329.2L262.7 328.8M262.7 328.8L263.3 328.4M263.3 328.4L263.9 328.0M263.9 328.0L264.5 327.6M264.5 327.6L265.1 327.1M265.1 327.1L265.6 326.7M265.6 326.7L266.2 326.3M266.2 326.3L266.8 325.9M266.8 325.9L267.4 325.5M267.4 325.5L267.9 325.2M267.9 325.2L268.5 324.8M268.5 324.8L269.0 324.5M269.0 324.5L269.5 324.3M274.8 324.6L275.3 324.9M275.3 324.9L275.7 325.2M275.7 325.2L276.2 325.6M276.2 325.6L276.6 326.1M276.6 326.1L277.1 326.5M277.1 326.5L277.5 327.0M277.5 327.0L278.0 327.6M278.0 327.6L278.4 328.1M278.4 328.1L278.8 328.7M278.8 328.7L279.3 329.2M279.3 329.2L279.8 329.8M279.8 329.8L280.2 330.4M280.2 330.4L280.7 331.0M280.7 331.0L281.1 331.5M281.1 331.5L281.6 332.1M281.6 332.1L282.1 332.6M282.1 332.6L282.6 333.1M282.6 333.1L283.0 333.6M283.0 333.6L283.5 334.0M283.5 334.0L284.0 334.4M284.0 334.4L284.5 334.8M290.1 335.4L290.6 335.2M290.6 335.2L291.1 334.9M291.1 334.9L291.6 334.6M291.6 334.6L292.1 334.2M292.1 334.2L292.6 333.8M292.6 333.8L293.2 333.4M293.2 333.4L293.7 332.9M293.7 332.9L294.2 332.4M294.2 332.4L294.7 331.9M294.7 331.9L295.2 331.4M295.2 331.4L295.7 330.8M295.7 330.8L296.2 330.3M296.2 330.3L296.7 329.8M296.7 329.8L297.2 329.3M297.2 329.3L297.8 328.7M297.8 328.7L298.3 328.3M298.3 328.3L298.7 327.8M298.7 327.8L299.3 327.4M299.3 327.4L299.8 326.9M299.8 326.9L300.3 326.6M300.3 326.6L300.8 326.2M306.2 325.8L306.7 326.0M306.7 326.0L307.2 326.3M307.2 326.3L307.7 326.7M307.7 326.7L308.2 327.1M308.2 327.1L308.7 327.5M308.7 327.5L309.2 327.9M309.2 327.9L309.7 328.4M309.7 328.4L310.2 328.9M310.2 328.9L310.7 329.4M310.7 329.4L311.2 329.9M311.2 329.9L311.7 330.5M311.7 330.5L312.2 331.0M312.2 331.0L312.7 331.5M312.7 331.5L313.3 332.0M313.3 332.0L313.8 332.5M313.8 332.5L314.3 333.0M314.3 333.0L314.8 333.5M314.8 333.5L315.3 333.9M315.3 333.9L315.8 334.3M315.8 334.3L316.3 334.7M316.3 334.7L316.9 335.0M322.4 335.2L323.0 334.9M323.0 334.9L323.4 334.6M323.4 334.6L323.9 334.2M323.9 334.2L324.4 333.8M324.4 333.8L324.9 333.4M324.9 333.4L325.4 332.9M325.4 332.9L325.8 332.4M325.8 332.4L326.3 331.9M326.3 331.9L326.8 331.3M326.8 331.3L327.3 330.7M327.3 330.7L327.7 330.2M327.7 330.2L328.2 329.6M328.2 329.6L328.7 329.0M328.7 329.0L329.1 328.5M329.1 328.5L329.6 327.9M329.6 327.9L330.0 327.4M330.0 327.4L330.5 326.9M330.5 326.9L331.0 326.4M331.0 326.4L331.4 326.0M331.4 326.0L331.9 325.6M331.9 325.6L332.4 325.2M337.7 324.3L338.2 324.5M338.2 324.5L338.7 324.7M338.7 324.7L339.3 325.0M339.3 325.0L339.8 325.4M339.8 325.4L340.3 325.7M340.3 325.7L340.9 326.1M340.9 326.1L341.4 326.6M341.4 326.6L342.0 327.0M342.0 327.0L342.5 327.5M342.5 327.5L343.1 327.9M343.1 327.9L343.6 328.4M343.6 328.4L344.2 328.9M344.2 328.9L344.8 329.4M344.8 329.4L345.3 329.8M345.3 329.8L345.9 330.3M345.9 330.3L346.4 330.7M346.4 330.7L347.0 331.1M347.0 331.1L347.6 331.5M347.6 331.5L348.1 331.8M348.1 331.8L348.7 332.1M348.7 332.1L349.2 332.4M354.8 332.0L355.3 331.7M355.3 331.7L355.7 331.3M355.7 331.3L356.2 330.9M356.2 330.9L356.6 330.4M356.6 330.4L357.0 329.9M357.0 329.9L357.5 329.4M357.5 329.4L357.9 328.8M357.9 328.8L358.3 328.3M358.3 328.3L358.7 327.7M358.7 327.7L359.1 327.0M359.1 327.0L359.5 326.4M359.5 326.4L359.9 325.8M359.9 325.8L360.3 325.2M360.3 325.2L360.7 324.6M360.7 324.6L361.1 324.0M361.1 324.0L361.5 323.4M361.5 323.4L361.9 322.9M361.9 322.9L362.3 322.3M362.3 322.3L362.7 321.8M362.7 321.8L363.1 321.4M363.1 321.4L363.5 320.9M368.7 319.4L369.2 319.5M369.2 319.5L369.8 319.7M369.8 319.7L370.4 320.0M370.4 320.0L370.9 320.2M370.9 320.2L371.5 320.5M371.5 320.5L372.1 320.9M372.1 320.9L372.7 321.2M372.7 321.2L373.3 321.6M373.3 321.6L373.9 322.0M373.9 322.0L374.5 322.4M374.5 322.4L375.1 322.8M375.1 322.8L375.7 323.2M375.7 323.2L376.3 323.6M376.3 323.6L376.9 324.0M376.9 324.0L377.5 324.4M377.5 324.4L378.2 324.7M378.2 324.7L378.8 325.0M378.8 325.0L379.4 325.3M379.4 325.3L380.0 325.6M380.0 325.6L380.5 325.8M380.5 325.8L381.2 326.0M386.7 324.9L387.1 324.5M387.1 324.5L387.5 324.0M387.5 324.0L387.9 323.6M387.9 323.6L388.2 323.0M388.2 323.0L388.6 322.5M388.6 322.5L389.0 321.9M389.0 321.9L389.3 321.3M389.3 321.3L389.6 320.7M389.6 320.7L389.9 320.0M389.9 320.0L390.2 319.3M390.2 319.3L390.5 318.7M390.5 318.7L390.8 318.0M390.8 318.0L391.2 317.3M391.2 317.3L391.5 316.7M391.5 316.7L391.7 316.0M391.7 316.0L392.0 315.4M392.0 315.4L392.4 314.8M392.4 314.8L392.7 314.2M392.7 314.2L393.0 313.7M393.0 313.7L393.3 313.1M393.3 313.1L393.6 312.7M398.4 310.3L399.0 310.3M399.0 310.3L399.5 310.4M399.5 310.4L400.1 310.5M400.1 310.5L400.7 310.7M400.7 310.7L401.3 310.9M401.3 310.9L402.0 311.1M402.0 311.1L402.6 311.4M402.6 311.4L403.3 311.6M403.3 311.6L403.9 311.9M403.9 311.9L404.6 312.2M404.6 312.2L405.3 312.4M405.3 312.4L406.0 312.7M406.0 312.7L406.6 313.0M406.6 313.0L407.3 313.3M407.3 313.3L408.0 313.5M408.0 313.5L408.7 313.8M408.7 313.8L409.3 314.0M409.3 314.0L410.0 314.1M410.0 314.1L410.6 314.3M410.6 314.3L411.2 314.4M411.2 314.4L411.8 314.5M417.0 312.4L417.4 311.9M417.4 311.9L417.7 311.4M417.7 311.4L418.0 310.8M418.0 310.8L418.2 310.3M418.2 310.3L418.5 309.7M418.5 309.7L418.7 309.0M418.7 309.0L419.0 308.4M419.0 308.4L419.2 307.7M419.2 307.7L419.4 307.0M419.4 307.0L419.5 306.3M419.5 306.3L419.7 305.6M419.7 305.6L419.9 304.9M419.9 304.9L420.1 304.1M420.1 304.1L420.3 303.4M420.3 303.4L420.5 302.8M420.5 302.8L420.7 302.1M420.7 302.1L420.9 301.4M420.9 301.4L421.1 300.8M421.1 300.8L421.3 300.2M421.3 300.2L421.6 299.6M421.6 299.6L421.8 299.1M426.3 296.0L426.9 296.0M426.9 296.0L427.5 296.0M427.5 296.0L428.1 296.1M428.1 296.1L428.7 296.1M428.7 296.1L429.3 296.2M429.3 296.2L430.0 296.4M430.0 296.4L430.7 296.5M430.7 296.5L431.3 296.7M431.3 296.7L432.0 296.9M432.0 296.9L432.7 297.1M432.7 297.1L433.4 297.3M433.4 297.3L434.2 297.5M434.2 297.5L434.9 297.7M434.9 297.7L435.6 297.9M435.6 297.9L436.2 298.1M436.2 298.1L436.9 298.3M436.9 298.3L437.6 298.4M437.6 298.4L438.3 298.5M438.3 298.5L438.9 298.6M438.9 298.6L439.5 298.7M439.5 298.7L440.2 298.7M445.2 296.0L445.5 295.4M445.5 295.4L445.7 294.9M445.7 294.9L445.9 294.3M445.9 294.3L446.1 293.7M446.1 293.7L446.3 293.1M446.3 293.1L446.5 292.4M446.5 292.4L446.6 291.7M446.6 291.7L446.7 291.0M446.7 291.0L446.8 290.3M446.8 290.3L446.9 289.6M446.9 289.6L447.0 288.8M447.0 288.8L447.1 288.1M447.1 288.1L447.2 287.4M447.2 287.4L447.2 286.7M447.2 286.7L447.3 286.0M447.3 286.0L447.4 285.3M447.4 285.3L447.5 284.6M447.5 284.6L447.6 283.9M447.6 283.9L447.8 283.3M447.8 283.3L447.9 282.7M447.9 282.7L448.1 282.2M451.9 278.4L452.4 278.3M452.4 278.3L453.0 278.2M453.0 278.2L453.6 278.2M453.6 278.2L454.2 278.1M454.2 278.1L454.9 278.1M454.9 278.1L455.3 278.4M455.3 278.4L455.7 278.6M455.7 278.6L456.2 278.9M456.2 278.9L456.8 279.1M456.8 279.1L457.4 279.3M457.4 279.3L458.1 279.4M458.1 279.4L458.7 279.6M458.7 279.6L459.4 279.8M459.4 279.8L460.1 279.9M460.1 279.9L460.8 280.0M460.8 280.0L461.6 280.0M461.6 280.0L462.3 280.0M462.3 280.0L463.0 280.0M463.0 280.0L463.8 279.8M463.8 279.8L464.5 279.7M464.5 279.7L465.3 279.4M470.6 274.1L470.9 273.1M470.9 273.1L471.2 272.2M471.2 272.2L471.3 271.2M471.3 271.2L471.4 270.2M471.4 270.2L471.5 269.3M471.5 269.3L471.4 268.3M471.4 268.3L471.3 267.4M471.3 267.4L471.1 266.4M471.1 266.4L470.9 265.5M470.9 265.5L470.6 264.7M470.6 264.7L470.3 263.9M470.3 263.9L469.9 263.2M469.9 263.2L469.6 262.6M469.6 262.6L469.2 262.1M469.2 262.1L468.8 261.6M468.8 261.6L468.5 261.2M468.1 261.3L468.4 261.5M468.4 261.5L468.9 261.8M468.9 261.8L469.5 262.1M469.5 262.1L470.2 262.4M470.2 262.4L471.0 262.7M471.0 262.7L471.9 262.9M471.9 262.9L472.9 263.0M472.9 263.0L474.0 263.1M474.0 263.1L475.1 262.9M475.1 262.9L476.2 262.6M476.2 262.6L477.4 262.2M477.4 262.2L478.5 261.6M478.5 261.6L479.5 260.9M483.1 254.0L483.0 252.6M483.0 252.6L482.8 251.2M482.8 251.2L482.5 250.0M482.5 250.0L482.0 248.8M482.0 248.8L481.4 247.7M481.4 247.7L480.8 246.8" stroke="#e0302c" stroke-width="2.9" fill="none" stroke-linecap="round"/><g clip-path="url(#blueclip)"><path d="M522.9 219.5L523.5 219.5M523.5 219.5L524.0 219.4M524.0 219.4L524.4 219.2M524.4 219.2L524.9 219.1M524.9 219.1L525.4 218.9M525.4 218.9L525.8 218.7M525.8 218.7L526.3 218.4M526.3 218.4L526.7 218.1M526.7 218.1L527.1 217.8M527.1 217.8L527.5 217.5M527.5 217.5L527.9 217.1M527.9 217.1L528.2 216.7M528.2 216.7L528.6 216.3M528.6 216.3L528.9 215.8M528.9 215.8L529.3 215.3M537.4 202.5L537.8 202.2M537.8 202.2L538.3 201.9M538.3 201.9L538.7 201.7M538.7 201.7L539.2 201.5M539.2 201.5L539.6 201.3M539.6 201.3L540.1 201.2M540.1 201.2L540.6 201.1M554.9 204.0L555.5 204.1M555.5 204.1L556.1 204.2M556.1 204.2L556.6 204.2M556.6 204.2L557.2 204.3M557.2 204.3L557.7 204.3M557.7 204.3L558.3 204.3M558.3 204.3L558.8 204.3M558.8 204.3L559.3 204.2M559.3 204.2L559.8 204.1M559.8 204.1L560.3 204.0M560.3 204.0L560.8 203.8M560.8 203.8L561.3 203.6M561.3 203.6L561.7 203.4M561.7 203.4L562.1 203.1M562.1 203.1L562.6 202.8M562.6 202.8L563.0 202.5M563.0 202.5L563.4 202.2M563.4 202.2L563.7 201.8M563.7 201.8L564.1 201.4M564.1 201.4L564.5 201.0M564.5 201.0L564.8 200.5M564.8 200.5L565.2 200.0M573.3 187.2L573.7 186.9M573.7 186.9L574.1 186.6M574.1 186.6L574.6 186.4M574.6 186.4L575.0 186.2M575.0 186.2L575.5 186.1M575.5 186.1L576.0 185.9M576.0 185.9L576.5 185.8M590.8 188.7L591.4 188.8M591.4 188.8L591.9 188.9M591.9 188.9L592.5 189.0M592.5 189.0L593.1 189.0M593.1 189.0L593.6 189.0M593.6 189.0L594.2 189.0M594.2 189.0L594.7 189.0M594.7 189.0L595.2 188.9M595.2 188.9L595.7 188.8M595.7 188.8L596.2 188.7M596.2 188.7L596.7 188.5M596.7 188.5L597.1 188.3M597.1 188.3L597.6 188.1M597.6 188.1L598.0 187.8M598.0 187.8L598.4 187.6M598.4 187.6L598.8 187.2M598.8 187.2L599.2 186.9M599.2 186.9L599.6 186.5M599.6 186.5L600.0 186.1M600.0 186.1L600.4 185.7M600.4 185.7L600.7 185.2M600.7 185.2L601.0 184.8M609.2 171.9L609.6 171.6M609.6 171.6L610.0 171.4M610.0 171.4L610.5 171.1M610.5 171.1L610.9 170.9M610.9 170.9L611.4 170.8M611.4 170.8L611.9 170.6M611.9 170.6L612.4 170.5M626.7 173.4L627.2 173.5M627.2 173.5L627.8 173.6M627.8 173.6L628.4 173.7M628.4 173.7L629.0 173.7M629.0 173.7L629.5 173.7M629.5 173.7L630.0 173.7M630.0 173.7L630.6 173.7M630.6 173.7L631.1 173.6M631.1 173.6L631.6 173.5M631.6 173.5L632.1 173.4M632.1 173.4L632.6 173.2M632.6 173.2L633.0 173.0M633.0 173.0L633.5 172.8M633.5 172.8L633.9 172.6M633.9 172.6L634.3 172.3M634.3 172.3L634.7 172.0M634.7 172.0L635.1 171.6M635.1 171.6L635.5 171.2M635.5 171.2L635.9 170.8M635.9 170.8L636.2 170.4M636.2 170.4L636.6 169.9M636.6 169.9L636.9 169.5M645.0 156.6L645.5 156.3M645.5 156.3L645.9 156.1M645.9 156.1L646.3 155.8M646.3 155.8L646.8 155.6M646.8 155.6L647.3 155.5M647.3 155.5L647.8 155.3M647.8 155.3L648.3 155.2M662.5 158.1L663.1 158.2M663.1 158.2L663.7 158.3M663.7 158.3L664.3 158.4M664.3 158.4L664.8 158.4M664.8 158.4L665.4 158.5M665.4 158.5L665.9 158.4M665.9 158.4L666.5 158.4M666.5 158.4L667.0 158.3M667.0 158.3L667.5 158.2M667.5 158.2L668.0 158.1M668.0 158.1L668.4 157.9M668.4 157.9L668.9 157.7M668.9 157.7L669.3 157.5M669.3 157.5L669.8 157.3M669.8 157.3L670.2 157.0M670.2 157.0L670.6 156.7M670.6 156.7L671.0 156.3M671.0 156.3L671.4 155.9M671.4 155.9L671.8 155.5M671.8 155.5L672.1 155.1M672.1 155.1L672.5 154.7M672.5 154.7L672.8 154.2M680.9 141.3L681.3 141.1M681.3 141.1L681.8 140.8M681.8 140.8L682.2 140.6M682.2 140.6L682.7 140.4M682.7 140.4L683.2 140.2M683.2 140.2L683.6 140.1M683.6 140.1L684.1 140.0M519.5 210.1L519.9 209.8M519.9 209.8L520.3 209.6M520.3 209.6L520.8 209.3M520.8 209.3L521.2 209.1M521.2 209.1L521.7 209.0M521.7 209.0L522.2 208.8M522.2 208.8L522.7 208.7M537.0 211.6L537.5 211.7M537.5 211.7L538.1 211.8M538.1 211.8L538.7 211.9M538.7 211.9L539.3 211.9M539.3 211.9L539.8 212.0M539.8 212.0L540.3 211.9M540.3 211.9L540.9 211.9M540.9 211.9L541.4 211.8M541.4 211.8L541.9 211.7M541.9 211.7L542.4 211.6M542.4 211.6L542.9 211.4M542.9 211.4L543.3 211.3M543.3 211.3L543.8 211.0M543.8 211.0L544.2 210.8M544.2 210.8L544.6 210.5M544.6 210.5L545.0 210.2M545.0 210.2L545.4 209.8M545.4 209.8L545.8 209.4M545.8 209.4L546.2 209.0M546.2 209.0L546.5 208.6M546.5 208.6L546.9 208.2M546.9 208.2L547.2 207.7M555.3 194.8L555.8 194.6M555.8 194.6L556.2 194.3M556.2 194.3L556.6 194.1M556.6 194.1L557.1 193.9M557.1 193.9L557.6 193.7M557.6 193.7L558.1 193.6M558.1 193.6L558.6 193.5M572.8 196.3L573.4 196.4M573.4 196.4L574.0 196.5M574.0 196.5L574.6 196.6M574.6 196.6L575.1 196.6M575.1 196.6L575.7 196.7M575.7 196.7L576.2 196.7M576.2 196.7L576.8 196.6M576.8 196.6L577.3 196.5M577.3 196.5L577.8 196.4M577.8 196.4L578.3 196.3M578.3 196.3L578.7 196.2M578.7 196.2L579.2 196.0M579.2 196.0L579.6 195.7M579.6 195.7L580.1 195.5M580.1 195.5L580.5 195.2M580.5 195.2L580.9 194.9M580.9 194.9L581.3 194.5M581.3 194.5L581.7 194.2M581.7 194.2L582.1 193.8M582.1 193.8L582.4 193.3M582.4 193.3L582.8 192.9M582.8 192.9L583.1 192.4M591.2 179.6L591.6 179.3M591.6 179.3L592.1 179.0M592.1 179.0L592.5 178.8M592.5 178.8L593.0 178.6M593.0 178.6L593.5 178.4M593.5 178.4L593.9 178.3M593.9 178.3L594.4 178.2M608.7 181.1L609.3 181.2M609.3 181.2L609.9 181.3M609.9 181.3L610.5 181.3M610.5 181.3L611.0 181.4M611.0 181.4L611.6 181.4M611.6 181.4L612.1 181.4M612.1 181.4L612.6 181.3M612.6 181.3L613.1 181.3M613.1 181.3L613.7 181.2M613.7 181.2L614.1 181.0M614.1 181.0L614.6 180.9M614.6 180.9L615.1 180.7M615.1 180.7L615.5 180.5M615.5 180.5L616.0 180.2M616.0 180.2L616.4 179.9M616.4 179.9L616.8 179.6M616.8 179.6L617.2 179.2M617.2 179.2L617.6 178.9M617.6 178.9L617.9 178.5M617.9 178.5L618.3 178.0M618.3 178.0L618.6 177.6M618.6 177.6L619.0 177.1M627.1 164.3L627.5 164.0M627.5 164.0L628.0 163.7M628.0 163.7L628.4 163.5M628.4 163.5L628.9 163.3M628.9 163.3L629.3 163.1M629.3 163.1L629.8 163.0M629.8 163.0L630.3 162.9M644.6 165.8L645.2 165.9M645.2 165.9L645.8 166.0M645.8 166.0L646.3 166.0M646.3 166.0L646.9 166.1M646.9 166.1L647.4 166.1M647.4 166.1L648.0 166.1M648.0 166.1L648.5 166.0M648.5 166.0L649.0 166.0M649.0 166.0L649.5 165.9M649.5 165.9L650.0 165.7M650.0 165.7L650.5 165.6M650.5 165.6L651.0 165.4M651.0 165.4L651.4 165.2M651.4 165.2L651.8 164.9M651.8 164.9L652.3 164.6M652.3 164.6L652.7 164.3M652.7 164.3L653.1 164.0M653.1 164.0L653.4 163.6M653.4 163.6L653.8 163.2M653.8 163.2L654.2 162.8M654.2 162.8L654.5 162.3M654.5 162.3L654.9 161.8M663.0 149.0L663.4 148.7M663.4 148.7L663.8 148.4M663.8 148.4L664.3 148.2M664.3 148.2L664.7 148.0M664.7 148.0L665.2 147.8M665.2 147.8L665.7 147.7M665.7 147.7L666.2 147.6M680.5 150.5L681.1 150.6M681.1 150.6L681.6 150.7M681.6 150.7L682.2 150.7M682.2 150.7L682.8 150.8M682.8 150.8L683.3 150.8M683.3 150.8L683.9 150.8M683.9 150.8L684.4 150.8M684.4 150.8L684.9 150.7M684.9 150.7L685.4 150.6M685.4 150.6L685.9 150.5M685.9 150.5L686.4 150.3M686.4 150.3L686.8 150.1M686.8 150.1L687.3 149.9M687.3 149.9L687.7 149.6M687.7 149.6L688.1 149.3M688.1 149.3L688.5 149.0M688.5 149.0L688.9 148.7M688.9 148.7L689.3 148.3M689.3 148.3L689.7 147.9M689.7 147.9L690.1 147.5M690.1 147.5L690.4 147.0M690.4 147.0L690.7 146.5" stroke="#241a48" stroke-width="2.5" fill="none" stroke-linecap="round"/><path d="M529.3 215.3L529.6 214.8M529.6 214.8L529.9 214.3M529.9 214.3L530.3 213.8M530.3 213.8L530.6 213.2M530.6 213.2L530.9 212.7M530.9 212.7L531.2 212.1M531.2 212.1L531.5 211.5M531.5 211.5L531.8 210.9M531.8 210.9L532.1 210.3M532.1 210.3L532.3 209.7M532.3 209.7L532.6 209.2M532.6 209.2L532.9 208.6M532.9 208.6L533.2 208.0M533.2 208.0L533.5 207.4M533.5 207.4L533.8 206.9M533.8 206.9L534.2 206.4M534.2 206.4L534.5 205.8M534.5 205.8L534.8 205.3M534.8 205.3L535.2 204.8M535.2 204.8L535.5 204.4M535.5 204.4L535.9 204.0M535.9 204.0L536.2 203.5M536.2 203.5L536.6 203.2M536.6 203.2L537.0 202.8M537.0 202.8L537.4 202.5M540.6 201.1L541.1 201.0M541.1 201.0L541.7 201.0M541.7 201.0L542.2 201.0M542.2 201.0L542.7 201.0M542.7 201.0L543.3 201.0M543.3 201.0L543.9 201.1M543.9 201.1L544.4 201.2M544.4 201.2L545.0 201.3M545.0 201.3L545.6 201.4M545.6 201.4L546.2 201.5M546.2 201.5L546.8 201.7M546.8 201.7L547.5 201.9M547.5 201.9L548.1 202.0M548.1 202.0L548.7 202.2M548.7 202.2L549.3 202.4M549.3 202.4L550.0 202.6M550.0 202.6L550.6 202.8M550.6 202.8L551.2 203.0M551.2 203.0L551.8 203.2M551.8 203.2L552.5 203.4M552.5 203.4L553.1 203.5M553.1 203.5L553.7 203.7M553.7 203.7L554.3 203.9M554.3 203.9L554.9 204.0M565.2 200.0L565.5 199.5M565.5 199.5L565.8 199.0M565.8 199.0L566.1 198.5M566.1 198.5L566.4 197.9M566.4 197.9L566.8 197.4M566.8 197.4L567.1 196.8M567.1 196.8L567.3 196.2M567.3 196.2L567.6 195.6M567.6 195.6L567.9 195.1M567.9 195.1L568.2 194.5M568.2 194.5L568.5 193.9M568.5 193.9L568.8 193.3M568.8 193.3L569.1 192.7M569.1 192.7L569.4 192.2M569.4 192.2L569.7 191.6M569.7 191.6L570.0 191.1M570.0 191.1L570.4 190.5M570.4 190.5L570.7 190.0M570.7 190.0L571.0 189.6M571.0 189.6L571.4 189.1M571.4 189.1L571.7 188.7M571.7 188.7L572.1 188.3M572.1 188.3L572.5 187.9M572.5 187.9L572.9 187.5M572.9 187.5L573.3 187.2M576.5 185.8L577.0 185.7M577.0 185.7L577.5 185.7M577.5 185.7L578.1 185.7M578.1 185.7L578.6 185.7M578.6 185.7L579.2 185.7M579.2 185.7L579.7 185.8M579.7 185.8L580.3 185.9M580.3 185.9L580.9 186.0M580.9 186.0L581.5 186.1M581.5 186.1L582.1 186.2M582.1 186.2L582.7 186.4M582.7 186.4L583.3 186.6M583.3 186.6L584.0 186.7M584.0 186.7L584.6 186.9M584.6 186.9L585.2 187.1M585.2 187.1L585.8 187.3M585.8 187.3L586.5 187.5M586.5 187.5L587.1 187.7M587.1 187.7L587.7 187.9M587.7 187.9L588.3 188.1M588.3 188.1L589.0 188.3M589.0 188.3L589.6 188.4M589.6 188.4L590.2 188.6M590.2 188.6L590.8 188.7M601.0 184.8L601.4 184.3M601.4 184.3L601.7 183.7M601.7 183.7L602.0 183.2M602.0 183.2L602.3 182.7M602.3 182.7L602.6 182.1M602.6 182.1L602.9 181.5M602.9 181.5L603.2 180.9M603.2 180.9L603.5 180.4M603.5 180.4L603.8 179.8M603.8 179.8L604.1 179.2M604.1 179.2L604.4 178.6M604.4 178.6L604.7 178.0M604.7 178.0L605.0 177.4M605.0 177.4L605.3 176.9M605.3 176.9L605.6 176.3M605.6 176.3L605.9 175.8M605.9 175.8L606.2 175.3M606.2 175.3L606.6 174.8M606.6 174.8L606.9 174.3M606.9 174.3L607.3 173.8M607.3 173.8L607.6 173.4M607.6 173.4L608.0 173.0M608.0 173.0L608.4 172.6M608.4 172.6L608.8 172.2M608.8 172.2L609.2 171.9M612.4 170.5L612.9 170.4M612.9 170.4L613.4 170.4M613.4 170.4L614.0 170.4M614.0 170.4L614.5 170.4M614.5 170.4L615.1 170.4M615.1 170.4L615.6 170.5M615.6 170.5L616.2 170.6M616.2 170.6L616.8 170.7M616.8 170.7L617.4 170.8M617.4 170.8L618.0 171.0M618.0 171.0L618.6 171.1M618.6 171.1L619.2 171.3M619.2 171.3L619.8 171.5M619.8 171.5L620.5 171.7M620.5 171.7L621.1 171.8M621.1 171.8L621.7 172.0M621.7 172.0L622.3 172.2M622.3 172.2L623.0 172.4M623.0 172.4L623.6 172.6M623.6 172.6L624.2 172.8M624.2 172.8L624.8 173.0M624.8 173.0L625.4 173.1M625.4 173.1L626.1 173.3M626.1 173.3L626.7 173.4M636.9 169.5L637.3 169.0M637.3 169.0L637.6 168.5M637.6 168.5L637.9 167.9M637.9 167.9L638.2 167.4M638.2 167.4L638.5 166.8M638.5 166.8L638.8 166.2M638.8 166.2L639.1 165.7M639.1 165.7L639.4 165.1M639.4 165.1L639.7 164.5M639.7 164.5L640.0 163.9M640.0 163.9L640.3 163.3M640.3 163.3L640.6 162.7M640.6 162.7L640.9 162.1M640.9 162.1L641.2 161.6M641.2 161.6L641.5 161.0M641.5 161.0L641.8 160.5M641.8 160.5L642.1 160.0M642.1 160.0L642.5 159.5M642.5 159.5L642.8 159.0M642.8 159.0L643.1 158.5M643.1 158.5L643.5 158.1M643.5 158.1L643.9 157.7M643.9 157.7L644.2 157.3M644.2 157.3L644.6 157.0M644.6 157.0L645.0 156.6M648.3 155.2L648.8 155.2M648.8 155.2L649.3 155.1M649.3 155.1L649.8 155.1M649.8 155.1L650.4 155.1M650.4 155.1L650.9 155.1M650.9 155.1L651.5 155.2M651.5 155.2L652.1 155.3M652.1 155.3L652.7 155.4M652.7 155.4L653.3 155.5M653.3 155.5L653.9 155.7M653.9 155.7L654.5 155.8M654.5 155.8L655.1 156.0M655.1 156.0L655.7 156.2M655.7 156.2L656.3 156.4M656.3 156.4L657.0 156.6M657.0 156.6L657.6 156.8M657.6 156.8L658.2 157.0M658.2 157.0L658.9 157.1M658.9 157.1L659.5 157.3M659.5 157.3L660.1 157.5M660.1 157.5L660.7 157.7M660.7 157.7L661.3 157.8M661.3 157.8L661.9 158.0M661.9 158.0L662.5 158.1M672.8 154.2L673.1 153.7M673.1 153.7L673.5 153.2M673.5 153.2L673.8 152.6M673.8 152.6L674.1 152.1M674.1 152.1L674.4 151.5M674.4 151.5L674.7 150.9M674.7 150.9L675.0 150.4M675.0 150.4L675.3 149.8M675.3 149.8L675.6 149.2M675.6 149.2L675.9 148.6M675.9 148.6L676.2 148.0M676.2 148.0L676.5 147.4M676.5 147.4L676.8 146.9M676.8 146.9L677.1 146.3M677.1 146.3L677.4 145.7M677.4 145.7L677.7 145.2M677.7 145.2L678.0 144.7M678.0 144.7L678.3 144.2M678.3 144.2L678.7 143.7M678.7 143.7L679.0 143.2M679.0 143.2L679.4 142.8M679.4 142.8L679.7 142.4M679.7 142.4L680.1 142.0M680.1 142.0L680.5 141.7M680.5 141.7L680.9 141.3M684.1 140.0L684.6 139.9M684.6 139.9L685.2 139.8M685.2 139.8L685.7 139.8M685.7 139.8L686.3 139.8M686.3 139.8L686.8 139.9M686.8 139.9L687.4 139.9M687.4 139.9L688.0 140.0M688.0 140.0L688.6 140.1M519.1 210.5L519.5 210.1M522.7 208.7L523.2 208.7M523.2 208.7L523.7 208.6M523.7 208.6L524.3 208.6M524.3 208.6L524.8 208.6M524.8 208.6L525.4 208.6M525.4 208.6L525.9 208.7M525.9 208.7L526.5 208.8M526.5 208.8L527.1 208.9M527.1 208.9L527.7 209.0M527.7 209.0L528.3 209.2M528.3 209.2L528.9 209.3M528.9 209.3L529.5 209.5M529.5 209.5L530.1 209.7M530.1 209.7L530.8 209.9M530.8 209.9L531.4 210.1M531.4 210.1L532.0 210.3M532.0 210.3L532.6 210.5M532.6 210.5L533.3 210.6M533.3 210.6L533.9 210.8M533.9 210.8L534.5 211.0M534.5 211.0L535.1 211.2M535.1 211.2L535.7 211.4M535.7 211.4L536.4 211.5M536.4 211.5L537.0 211.6M547.2 207.7L547.6 207.2M547.6 207.2L547.9 206.7M547.9 206.7L548.2 206.1M548.2 206.1L548.5 205.6M548.5 205.6L548.8 205.0M548.8 205.0L549.1 204.4M549.1 204.4L549.4 203.9M549.4 203.9L549.7 203.3M549.7 203.3L550.0 202.7M550.0 202.7L550.3 202.1M550.3 202.1L550.6 201.5M550.6 201.5L550.9 200.9M550.9 200.9L551.2 200.4M551.2 200.4L551.5 199.8M551.5 199.8L551.8 199.2M551.8 199.2L552.1 198.7M552.1 198.7L552.4 198.2M552.4 198.2L552.8 197.7M552.8 197.7L553.1 197.2M553.1 197.2L553.4 196.7M553.4 196.7L553.8 196.3M553.8 196.3L554.2 195.9M554.2 195.9L554.6 195.5M554.6 195.5L554.9 195.2M554.9 195.2L555.3 194.8M558.6 193.5L559.1 193.4M559.1 193.4L559.6 193.3M559.6 193.3L560.1 193.3M560.1 193.3L560.7 193.3M560.7 193.3L561.2 193.4M561.2 193.4L561.8 193.4M561.8 193.4L562.4 193.5M562.4 193.5L563.0 193.6M563.0 193.6L563.6 193.7M563.6 193.7L564.2 193.9M564.2 193.9L564.8 194.0M564.8 194.0L565.4 194.2M565.4 194.2L566.0 194.4M566.0 194.4L566.6 194.6M566.6 194.6L567.3 194.8M567.3 194.8L567.9 195.0M567.9 195.0L568.5 195.2M568.5 195.2L569.2 195.4M569.2 195.4L569.8 195.6M569.8 195.6L570.4 195.7M570.4 195.7L571.0 195.9M571.0 195.9L571.6 196.1M571.6 196.1L572.2 196.2M572.2 196.2L572.8 196.3M583.1 192.4L583.4 191.9M583.4 191.9L583.8 191.4M583.8 191.4L584.1 190.8M584.1 190.8L584.4 190.3M584.4 190.3L584.7 189.7M584.7 189.7L585.0 189.2M585.0 189.2L585.3 188.6M585.3 188.6L585.6 188.0M585.6 188.0L585.9 187.4M585.9 187.4L586.2 186.8M586.2 186.8L586.5 186.2M586.5 186.2L586.8 185.7M586.8 185.7L587.1 185.1M587.1 185.1L587.4 184.5M587.4 184.5L587.7 184.0M587.7 184.0L588.0 183.4M588.0 183.4L588.3 182.9M588.3 182.9L588.6 182.4M588.6 182.4L589.0 181.9M589.0 181.9L589.3 181.5M589.3 181.5L589.7 181.0M589.7 181.0L590.0 180.6M590.0 180.6L590.4 180.2M590.4 180.2L590.8 179.9M590.8 179.9L591.2 179.6M594.4 178.2L595.0 178.1M595.0 178.1L595.5 178.0M595.5 178.0L596.0 178.0M596.0 178.0L596.6 178.0M596.6 178.0L597.1 178.1M597.1 178.1L597.7 178.1M597.7 178.1L598.3 178.2M598.3 178.2L598.9 178.3M598.9 178.3L599.5 178.5M599.5 178.5L600.1 178.6M600.1 178.6L600.7 178.8M600.7 178.8L601.3 178.9M601.3 178.9L601.9 179.1M601.9 179.1L602.5 179.3M602.5 179.3L603.2 179.5M603.2 179.5L603.8 179.7M603.8 179.7L604.4 179.9M604.4 179.9L605.0 180.1M605.0 180.1L605.7 180.3M605.7 180.3L606.3 180.4M606.3 180.4L606.9 180.6M606.9 180.6L607.5 180.8M607.5 180.8L608.1 180.9M608.1 180.9L608.7 181.1M619.0 177.1L619.3 176.6M619.3 176.6L619.6 176.1M619.6 176.1L620.0 175.6M620.0 175.6L620.3 175.0M620.3 175.0L620.6 174.4M620.6 174.4L620.9 173.9M620.9 173.9L621.2 173.3M621.2 173.3L621.5 172.7M621.5 172.7L621.8 172.1M621.8 172.1L622.0 171.5M622.0 171.5L622.3 170.9M622.3 170.9L622.6 170.4M622.6 170.4L622.9 169.8M622.9 169.8L623.2 169.2M623.2 169.2L623.5 168.7M623.5 168.7L623.9 168.1M623.9 168.1L624.2 167.6M624.2 167.6L624.5 167.1M624.5 167.1L624.9 166.6M624.9 166.6L625.2 166.2M625.2 166.2L625.6 165.7M625.6 165.7L625.9 165.3M625.9 165.3L626.3 165.0M626.3 165.0L626.7 164.6M626.7 164.6L627.1 164.3M630.3 162.9L630.8 162.8M630.8 162.8L631.4 162.8M631.4 162.8L631.9 162.7M631.9 162.7L632.4 162.8M632.4 162.8L633.0 162.8M633.0 162.8L633.6 162.9M633.6 162.9L634.1 162.9M634.1 162.9L634.7 163.0M634.7 163.0L635.3 163.2M635.3 163.2L635.9 163.3M635.9 163.3L636.5 163.5M636.5 163.5L637.2 163.6M637.2 163.6L637.8 163.8M637.8 163.8L638.4 164.0M638.4 164.0L639.0 164.2M639.0 164.2L639.7 164.4M639.7 164.4L640.3 164.6M640.3 164.6L640.9 164.8M640.9 164.8L641.5 165.0M641.5 165.0L642.2 165.2M642.2 165.2L642.8 165.3M642.8 165.3L643.4 165.5M643.4 165.5L644.0 165.6M644.0 165.6L644.6 165.8M654.9 161.8L655.2 161.3M655.2 161.3L655.5 160.8M655.5 160.8L655.8 160.3M655.8 160.3L656.1 159.7M656.1 159.7L656.5 159.2M656.5 159.2L656.8 158.6M656.8 158.6L657.0 158.0M657.0 158.0L657.3 157.4M657.3 157.4L657.6 156.8M657.6 156.8L657.9 156.2M657.9 156.2L658.2 155.7M658.2 155.7L658.5 155.1M658.5 155.1L658.8 154.5M658.8 154.5L659.1 153.9M659.1 153.9L659.4 153.4M659.4 153.4L659.7 152.9M659.7 152.9L660.1 152.3M660.1 152.3L660.4 151.8M660.4 151.8L660.7 151.3M660.7 151.3L661.1 150.9M661.1 150.9L661.4 150.5M661.4 150.5L661.8 150.0M661.8 150.0L662.2 149.7M662.2 149.7L662.6 149.3M662.6 149.3L663.0 149.0M666.2 147.6L666.7 147.5M666.7 147.5L667.2 147.5M667.2 147.5L667.8 147.5M667.8 147.5L668.3 147.5M668.3 147.5L668.9 147.5M668.9 147.5L669.4 147.6M669.4 147.6L670.0 147.7M670.0 147.7L670.6 147.8M670.6 147.8L671.2 147.9M671.2 147.9L671.8 148.0M671.8 148.0L672.4 148.2M672.4 148.2L673.0 148.4M673.0 148.4L673.7 148.5M673.7 148.5L674.3 148.7M674.3 148.7L674.9 148.9M674.9 148.9L675.5 149.1M675.5 149.1L676.2 149.3M676.2 149.3L676.8 149.5M676.8 149.5L677.4 149.7M677.4 149.7L678.0 149.9M678.0 149.9L678.7 150.0M678.7 150.0L679.3 150.2M679.3 150.2L679.9 150.4M679.9 150.4L680.5 150.5M690.7 146.5L691.1 146.0" stroke="#e8302c" stroke-width="2.5" fill="none" stroke-linecap="round"/><path d="M513.5 408.8L513.9 409.2M513.9 409.2L514.3 409.5M514.3 409.5L514.7 409.8M514.7 409.8L515.1 410.1M515.1 410.1L515.5 410.3M515.5 410.3L516.0 410.6M516.0 410.6L516.4 410.8M516.4 410.8L516.9 411.0M516.9 411.0L517.4 411.1M517.4 411.1L517.9 411.2M517.9 411.2L518.4 411.3M518.4 411.3L519.0 411.4M519.0 411.4L519.5 411.5M519.5 411.5L520.1 411.5M520.1 411.5L520.6 411.5M520.6 411.5L521.2 411.5M536.7 410.5L537.2 410.7M537.2 410.7L537.7 410.9M537.7 410.9L538.2 411.1M538.2 411.1L538.6 411.3M538.6 411.3L539.0 411.6M539.0 411.6L539.4 411.9M539.4 411.9L539.8 412.2M546.9 425.9L547.2 426.5M547.2 426.5L547.5 427.0M547.5 427.0L547.8 427.4M547.8 427.4L548.1 427.9M548.1 427.9L548.4 428.3M548.4 428.3L548.8 428.8M548.8 428.8L549.1 429.1M549.1 429.1L549.5 429.5M549.5 429.5L549.9 429.8M549.9 429.8L550.3 430.2M550.3 430.2L550.7 430.4M550.7 430.4L551.1 430.7M551.1 430.7L551.6 430.9M551.6 430.9L552.0 431.1M552.0 431.1L552.5 431.3M552.5 431.3L553.0 431.5M553.0 431.5L553.5 431.6M553.5 431.6L554.0 431.7M554.0 431.7L554.6 431.8M554.6 431.8L555.1 431.8M555.1 431.8L555.7 431.8M555.7 431.8L556.2 431.9M556.2 431.9L556.8 431.8M572.3 430.9L572.8 431.0M572.8 431.0L573.3 431.2M573.3 431.2L573.7 431.4M573.7 431.4L574.2 431.7M574.2 431.7L574.6 431.9M574.6 431.9L575.0 432.2M575.0 432.2L575.4 432.5M582.5 446.3L582.8 446.8M582.8 446.8L583.1 447.3M583.1 447.3L583.4 447.8M583.4 447.8L583.7 448.3M583.7 448.3L584.0 448.7M584.0 448.7L584.4 449.1M584.4 449.1L584.7 449.5M584.7 449.5L585.1 449.9M585.1 449.9L585.5 450.2M585.5 450.2L585.9 450.5M585.9 450.5L586.3 450.8M586.3 450.8L586.7 451.0M586.7 451.0L587.2 451.3M587.2 451.3L587.6 451.5M587.6 451.5L588.1 451.7M588.1 451.7L588.6 451.8M588.6 451.8L589.1 451.9M589.1 451.9L589.6 452.0M589.6 452.0L590.1 452.1M590.1 452.1L590.7 452.2M590.7 452.2L591.3 452.2M591.3 452.2L591.8 452.2M591.8 452.2L592.4 452.2M607.9 451.2L608.4 451.4M608.4 451.4L608.9 451.6M608.9 451.6L609.3 451.8M609.3 451.8L609.8 452.0M609.8 452.0L610.2 452.3M610.2 452.3L610.6 452.6M610.6 452.6L611.0 452.9M618.1 466.7L618.4 467.2M618.4 467.2L618.7 467.7M618.7 467.7L619.0 468.2M619.0 468.2L619.3 468.6M619.3 468.6L619.6 469.0M619.6 469.0L620.0 469.5M620.0 469.5L620.3 469.8M620.3 469.8L620.7 470.2M620.7 470.2L621.1 470.5M621.1 470.5L621.5 470.9M621.5 470.9L621.9 471.1M621.9 471.1L622.3 471.4M622.3 471.4L622.8 471.6M622.8 471.6L623.2 471.8M623.2 471.8L623.7 472.0M623.7 472.0L624.2 472.2M624.2 472.2L624.7 472.3M624.7 472.3L625.2 472.4M625.2 472.4L625.7 472.5M625.7 472.5L626.3 472.5M626.3 472.5L626.8 472.5M626.8 472.5L627.4 472.6M627.4 472.6L628.0 472.5M643.5 471.6L644.0 471.7M644.0 471.7L644.5 471.9M644.5 471.9L644.9 472.1M644.9 472.1L645.4 472.4M645.4 472.4L645.8 472.6M645.8 472.6L646.2 472.9M646.2 472.9L646.6 473.3M653.7 487.0L654.0 487.5M654.0 487.5L654.3 488.0M654.3 488.0L654.6 488.5M654.6 488.5L654.9 489.0M654.9 489.0L655.2 489.4M655.2 489.4L655.6 489.8M655.6 489.8L655.9 490.2M655.9 490.2L656.3 490.6M656.3 490.6L656.7 490.9M656.7 490.9L657.1 491.2M657.1 491.2L657.5 491.5M657.5 491.5L657.9 491.8M657.9 491.8L658.4 492.0M658.4 492.0L658.8 492.2M658.8 492.2L659.3 492.4M659.3 492.4L659.8 492.5M659.8 492.5L660.3 492.6M660.3 492.6L660.8 492.7M660.8 492.7L661.3 492.8M661.3 492.8L661.9 492.9M661.9 492.9L662.4 492.9M662.4 492.9L663.0 492.9M663.0 492.9L663.6 492.9M679.1 491.9L679.6 492.1M679.6 492.1L680.1 492.3M680.1 492.3L680.5 492.5M680.5 492.5L681.0 492.7M681.0 492.7L681.4 493.0M681.4 493.0L681.8 493.3M681.8 493.3L682.2 493.6M519.0 400.3L519.4 400.5M519.4 400.5L519.9 400.7M519.9 400.7L520.4 400.9M520.4 400.9L520.8 401.1M520.8 401.1L521.2 401.4M521.2 401.4L521.6 401.7M521.6 401.7L522.0 402.0M529.1 415.8L529.4 416.3M529.4 416.3L529.7 416.8M529.7 416.8L530.0 417.3M530.0 417.3L530.3 417.7M530.3 417.7L530.6 418.2M530.6 418.2L531.0 418.6M531.0 418.6L531.3 419.0M531.3 419.0L531.7 419.3M531.7 419.3L532.1 419.7M532.1 419.7L532.5 420.0M532.5 420.0L532.9 420.3M532.9 420.3L533.3 420.5M533.3 420.5L533.8 420.7M533.8 420.7L534.2 421.0M534.2 421.0L534.7 421.1M534.7 421.1L535.2 421.3M535.2 421.3L535.7 421.4M535.7 421.4L536.2 421.5M536.2 421.5L536.8 421.6M536.8 421.6L537.3 421.6M537.3 421.6L537.9 421.7M537.9 421.7L538.4 421.7M538.4 421.7L539.0 421.7M554.5 420.7L555.0 420.9M555.0 420.9L555.5 421.0M555.5 421.0L556.0 421.3M556.0 421.3L556.4 421.5M556.4 421.5L556.8 421.8M556.8 421.8L557.2 422.1M557.2 422.1L557.6 422.4M564.7 436.1L565.0 436.6M565.0 436.6L565.3 437.1M565.3 437.1L565.6 437.6M565.6 437.6L565.9 438.1M565.9 438.1L566.2 438.5M566.2 438.5L566.6 438.9M566.6 438.9L566.9 439.3M566.9 439.3L567.3 439.7M567.3 439.7L567.7 440.0M567.7 440.0L568.1 440.3M568.1 440.3L568.5 440.6M568.5 440.6L568.9 440.9M568.9 440.9L569.4 441.1M569.4 441.1L569.8 441.3M569.8 441.3L570.3 441.5M570.3 441.5L570.8 441.6M570.8 441.6L571.3 441.8M571.3 441.8L571.8 441.9M571.8 441.9L572.4 441.9M572.4 441.9L572.9 442.0M572.9 442.0L573.5 442.0M573.5 442.0L574.0 442.0M574.0 442.0L574.6 442.0M590.1 441.1L590.6 441.2M590.6 441.2L591.1 441.4M591.1 441.4L591.5 441.6M591.5 441.6L592.0 441.8M592.0 441.8L592.4 442.1M592.4 442.1L592.8 442.4M592.8 442.4L593.2 442.7M600.3 456.5L600.6 457.0M600.6 457.0L600.9 457.5M600.9 457.5L601.2 458.0M601.2 458.0L601.5 458.4M601.5 458.4L601.8 458.9M601.8 458.9L602.2 459.3M602.2 459.3L602.5 459.7M602.5 459.7L602.9 460.0M602.9 460.0L603.3 460.4M603.3 460.4L603.7 460.7M603.7 460.7L604.1 461.0M604.1 461.0L604.5 461.2M604.5 461.2L605.0 461.5M605.0 461.5L605.4 461.7M605.4 461.7L605.9 461.8M605.9 461.8L606.4 462.0M606.4 462.0L606.9 462.1M606.9 462.1L607.4 462.2M607.4 462.2L607.9 462.3M607.9 462.3L608.5 462.3M608.5 462.3L609.0 462.4M609.0 462.4L609.6 462.4M609.6 462.4L610.2 462.4M625.7 461.4L626.2 461.6M626.2 461.6L626.7 461.7M626.7 461.7L627.1 462.0M627.1 462.0L627.6 462.2M627.6 462.2L628.0 462.5M628.0 462.5L628.4 462.8M628.4 462.8L628.8 463.1M635.9 476.8L636.2 477.3M636.2 477.3L636.5 477.8M636.5 477.8L636.8 478.3M636.8 478.3L637.1 478.8M637.1 478.8L637.4 479.2M637.4 479.2L637.8 479.6M637.8 479.6L638.1 480.0M638.1 480.0L638.5 480.4M638.5 480.4L638.9 480.7M638.9 480.7L639.3 481.0M639.3 481.0L639.7 481.3M639.7 481.3L640.1 481.6M640.1 481.6L640.6 481.8M640.6 481.8L641.0 482.0M641.0 482.0L641.5 482.2M641.5 482.2L642.0 482.3M642.0 482.3L642.5 482.5M642.5 482.5L643.0 482.6M643.0 482.6L643.5 482.6M643.5 482.6L644.1 482.7M644.1 482.7L644.6 482.7M644.6 482.7L645.2 482.7M645.2 482.7L645.8 482.7M661.3 481.8L661.8 481.9M661.8 481.9L662.3 482.1M662.3 482.1L662.7 482.3M662.7 482.3L663.2 482.6M663.2 482.6L663.6 482.8M663.6 482.8L664.0 483.1M664.0 483.1L664.4 483.4M671.5 497.2L671.8 497.7M671.8 497.7L672.1 498.2M672.1 498.2L672.4 498.7M672.4 498.7L672.7 499.1M672.7 499.1L673.0 499.6M673.0 499.6L673.4 500.0M673.4 500.0L673.7 500.4M673.7 500.4L674.1 500.7M674.1 500.7L674.5 501.1M674.5 501.1L674.9 501.4M674.9 501.4L675.3 501.7M675.3 501.7L675.7 501.9M675.7 501.9L676.1 502.2M676.1 502.2L676.6 502.4M676.6 502.4L677.1 502.5M677.1 502.5L677.6 502.7M677.6 502.7L678.1 502.8M678.1 502.8L678.6 502.9M678.6 502.9L679.1 503.0M679.1 503.0L679.7 503.0M679.7 503.0L680.2 503.1M680.2 503.1L680.8 503.1M680.8 503.1L681.4 503.1" stroke="#241a48" stroke-width="2.5" fill="none" stroke-linecap="round"/><path d="M521.2 411.5L521.8 411.5M521.8 411.5L522.4 411.4M522.4 411.4L523.0 411.4M523.0 411.4L523.6 411.3M523.6 411.3L524.3 411.2M524.3 411.2L524.9 411.1M524.9 411.1L525.5 411.0M525.5 411.0L526.1 410.9M526.1 410.9L526.8 410.8M526.8 410.8L527.4 410.7M527.4 410.7L528.1 410.6M528.1 410.6L528.7 410.5M528.7 410.5L529.3 410.4M529.3 410.4L529.9 410.3M529.9 410.3L530.6 410.3M530.6 410.3L531.2 410.2M531.2 410.2L531.8 410.1M531.8 410.1L532.4 410.1M532.4 410.1L533.0 410.1M533.0 410.1L533.5 410.1M533.5 410.1L534.1 410.1M534.1 410.1L534.7 410.1M534.7 410.1L535.2 410.2M535.2 410.2L535.7 410.3M535.7 410.3L536.2 410.4M536.2 410.4L536.7 410.5M539.8 412.2L540.2 412.5M540.2 412.5L540.6 412.9M540.6 412.9L540.9 413.3M540.9 413.3L541.2 413.7M541.2 413.7L541.6 414.2M541.6 414.2L541.9 414.6M541.9 414.6L542.2 415.1M542.2 415.1L542.5 415.6M542.5 415.6L542.7 416.2M542.7 416.2L543.0 416.7M543.0 416.7L543.3 417.2M543.3 417.2L543.5 417.8M543.5 417.8L543.8 418.4M543.8 418.4L544.0 419.0M544.0 419.0L544.2 419.6M544.2 419.6L544.5 420.2M544.5 420.2L544.7 420.8M544.7 420.8L544.9 421.4M544.9 421.4L545.2 422.0M545.2 422.0L545.4 422.6M545.4 422.6L545.7 423.1M545.7 423.1L545.9 423.7M545.9 423.7L546.1 424.3M546.1 424.3L546.4 424.9M546.4 424.9L546.7 425.4M546.7 425.4L546.9 425.9M556.8 431.8L557.4 431.8M557.4 431.8L558.0 431.8M558.0 431.8L558.6 431.7M558.6 431.7L559.2 431.6M559.2 431.6L559.8 431.6M559.8 431.6L560.5 431.5M560.5 431.5L561.1 431.4M561.1 431.4L561.7 431.3M561.7 431.3L562.4 431.2M562.4 431.2L563.0 431.1M563.0 431.1L563.6 431.0M563.6 431.0L564.3 430.9M564.3 430.9L564.9 430.8M564.9 430.8L565.5 430.7M565.5 430.7L566.2 430.6M566.2 430.6L566.8 430.5M566.8 430.5L567.4 430.5M567.4 430.5L568.0 430.5M568.0 430.5L568.6 430.4M568.6 430.4L569.1 430.4M569.1 430.4L569.7 430.5M569.7 430.5L570.3 430.5M570.3 430.5L570.8 430.5M570.8 430.5L571.3 430.6M571.3 430.6L571.8 430.7M571.8 430.7L572.3 430.9M575.4 432.5L575.8 432.9M575.8 432.9L576.2 433.3M576.2 433.3L576.5 433.7M576.5 433.7L576.8 434.1M576.8 434.1L577.2 434.5M577.2 434.5L577.5 435.0M577.5 435.0L577.8 435.5M577.8 435.5L578.1 436.0M578.1 436.0L578.3 436.5M578.3 436.5L578.6 437.0M578.6 437.0L578.9 437.6M578.9 437.6L579.1 438.2M579.1 438.2L579.4 438.7M579.4 438.7L579.6 439.3M579.6 439.3L579.8 439.9M579.8 439.9L580.1 440.5M580.1 440.5L580.3 441.1M580.3 441.1L580.5 441.7M580.5 441.7L580.8 442.3M580.8 442.3L581.0 442.9M581.0 442.9L581.2 443.5M581.2 443.5L581.5 444.1M581.5 444.1L581.7 444.7M581.7 444.7L582.0 445.2M582.0 445.2L582.3 445.8M582.3 445.8L582.5 446.3M592.4 452.2L593.0 452.2M593.0 452.2L593.6 452.1M593.6 452.1L594.2 452.1M594.2 452.1L594.8 452.0M594.8 452.0L595.4 451.9M595.4 451.9L596.1 451.8M596.1 451.8L596.7 451.7M596.7 451.7L597.3 451.6M597.3 451.6L598.0 451.5M598.0 451.5L598.6 451.4M598.6 451.4L599.2 451.3M599.2 451.3L599.9 451.2M599.9 451.2L600.5 451.1M600.5 451.1L601.1 451.0M601.1 451.0L601.7 451.0M601.7 451.0L602.4 450.9M602.4 450.9L603.0 450.8M603.0 450.8L603.6 450.8M603.6 450.8L604.1 450.8M604.1 450.8L604.7 450.8M604.7 450.8L605.3 450.8M605.3 450.8L605.8 450.8M605.8 450.8L606.4 450.9M606.4 450.9L606.9 451.0M606.9 451.0L607.4 451.1M607.4 451.1L607.9 451.2M611.0 452.9L611.4 453.2M611.4 453.2L611.7 453.6M611.7 453.6L612.1 454.0M612.1 454.0L612.4 454.4M612.4 454.4L612.8 454.9M612.8 454.9L613.1 455.3M613.1 455.3L613.4 455.8M613.4 455.8L613.7 456.3M613.7 456.3L613.9 456.9M613.9 456.9L614.2 457.4M614.2 457.4L614.5 457.9M614.5 457.9L614.7 458.5M614.7 458.5L615.0 459.1M615.0 459.1L615.2 459.7M615.2 459.7L615.4 460.3M615.4 460.3L615.7 460.9M615.7 460.9L615.9 461.5M615.9 461.5L616.1 462.1M616.1 462.1L616.4 462.7M616.4 462.7L616.6 463.3M616.6 463.3L616.8 463.9M616.8 463.9L617.1 464.4M617.1 464.4L617.3 465.0M617.3 465.0L617.6 465.6M617.6 465.6L617.8 466.1M617.8 466.1L618.1 466.7M628.0 472.5L628.6 472.5M628.6 472.5L629.2 472.5M629.2 472.5L629.8 472.4M629.8 472.4L630.4 472.4M630.4 472.4L631.0 472.3M631.0 472.3L631.7 472.2M631.7 472.2L632.3 472.1M632.3 472.1L632.9 472.0M632.9 472.0L633.6 471.9M633.6 471.9L634.2 471.8M634.2 471.8L634.8 471.7M634.8 471.7L635.5 471.6M635.5 471.6L636.1 471.5M636.1 471.5L636.7 471.4M636.7 471.4L637.3 471.3M637.3 471.3L637.9 471.3M637.9 471.3L638.6 471.2M638.6 471.2L639.2 471.2M639.2 471.2L639.7 471.1M639.7 471.1L640.3 471.1M640.3 471.1L640.9 471.2M640.9 471.2L641.4 471.2M641.4 471.2L642.0 471.3M642.0 471.3L642.5 471.3M642.5 471.3L643.0 471.4M643.0 471.4L643.5 471.6M646.6 473.3L647.0 473.6M647.0 473.6L647.3 474.0M647.3 474.0L647.7 474.4M647.7 474.4L648.0 474.8M648.0 474.8L648.3 475.2M648.3 475.2L648.7 475.7M648.7 475.7L649.0 476.2M649.0 476.2L649.2 476.7M649.2 476.7L649.5 477.2M649.5 477.2L649.8 477.7M649.8 477.7L650.0 478.3M650.0 478.3L650.3 478.9M650.3 478.9L650.5 479.4M650.5 479.4L650.8 480.0M650.8 480.0L651.0 480.6M651.0 480.6L651.3 481.2M651.3 481.2L651.5 481.8M651.5 481.8L651.7 482.4M651.7 482.4L652.0 483.0M652.0 483.0L652.2 483.6M652.2 483.6L652.4 484.2M652.4 484.2L652.7 484.8M652.7 484.8L652.9 485.4M652.9 485.4L653.2 485.9M653.2 485.9L653.4 486.5M653.4 486.5L653.7 487.0M663.6 492.9L664.2 492.9M664.2 492.9L664.8 492.8M664.8 492.8L665.4 492.8M665.4 492.8L666.0 492.7M666.0 492.7L666.6 492.6M666.6 492.6L667.2 492.5M667.2 492.5L667.9 492.4M667.9 492.4L668.5 492.3M668.5 492.3L669.1 492.2M669.1 492.2L669.8 492.1M669.8 492.1L670.4 492.0M670.4 492.0L671.1 491.9M671.1 491.9L671.7 491.8M671.7 491.8L672.3 491.7M672.3 491.7L672.9 491.7M672.9 491.7L673.5 491.6M673.5 491.6L674.1 491.6M674.1 491.6L674.7 491.5M674.7 491.5L675.3 491.5M675.3 491.5L675.9 491.5M675.9 491.5L676.5 491.5M676.5 491.5L677.0 491.5M677.0 491.5L677.6 491.6M677.6 491.6L678.1 491.7M678.1 491.7L678.6 491.8M678.6 491.8L679.1 491.9M682.2 493.6L682.6 494.0M682.6 494.0L682.9 494.3M682.9 494.3L683.3 494.7M683.3 494.7L683.6 495.1M683.6 495.1L683.9 495.6M683.9 495.6L684.2 496.0M684.2 496.0L684.5 496.5M684.5 496.5L684.8 497.0M684.8 497.0L685.1 497.6M685.1 497.6L685.4 498.1M685.4 498.1L685.6 498.7M685.6 498.7L685.9 499.2M685.9 499.2L686.1 499.8M686.1 499.8L686.4 500.4M686.4 500.4L686.6 501.0M686.6 501.0L686.8 501.6M686.8 501.6L687.1 502.2M687.1 502.2L687.3 502.8M687.3 502.8L687.5 503.4M687.5 503.4L687.8 504.0M687.8 504.0L688.0 504.6M688.0 504.6L688.3 505.1M688.3 505.1L688.5 505.7M518.5 400.2L519.0 400.3M522.0 402.0L522.4 402.4M522.4 402.4L522.8 402.7M522.8 402.7L523.1 403.1M523.1 403.1L523.5 403.6M523.5 403.6L523.8 404.0M523.8 404.0L524.1 404.5M524.1 404.5L524.4 404.9M524.4 404.9L524.7 405.5M524.7 405.5L524.9 406.0M524.9 406.0L525.2 406.5M525.2 406.5L525.5 407.1M525.5 407.1L525.7 407.6M525.7 407.6L526.0 408.2M526.0 408.2L526.2 408.8M526.2 408.8L526.5 409.4M526.5 409.4L526.7 410.0M526.7 410.0L526.9 410.6M526.9 410.6L527.2 411.2M527.2 411.2L527.4 411.8M527.4 411.8L527.6 412.4M527.6 412.4L527.9 413.0M527.9 413.0L528.1 413.6M528.1 413.6L528.3 414.1M528.3 414.1L528.6 414.7M528.6 414.7L528.9 415.2M528.9 415.2L529.1 415.8M539.0 421.7L539.6 421.6M539.6 421.6L540.2 421.6M540.2 421.6L540.8 421.5M540.8 421.5L541.4 421.5M541.4 421.5L542.1 421.4M542.1 421.4L542.7 421.3M542.7 421.3L543.3 421.2M543.3 421.2L543.9 421.1M543.9 421.1L544.6 421.0M544.6 421.0L545.2 420.9M545.2 420.9L545.8 420.8M545.8 420.8L546.5 420.7M546.5 420.7L547.1 420.6M547.1 420.6L547.7 420.5M547.7 420.5L548.4 420.4M548.4 420.4L549.0 420.4M549.0 420.4L549.6 420.3M549.6 420.3L550.2 420.3M550.2 420.3L550.8 420.3M550.8 420.3L551.3 420.3M551.3 420.3L551.9 420.3M551.9 420.3L552.5 420.3M552.5 420.3L553.0 420.4M553.0 420.4L553.5 420.5M553.5 420.5L554.0 420.6M554.0 420.6L554.5 420.7M557.6 422.4L558.0 422.7M558.0 422.7L558.4 423.1M558.4 423.1L558.7 423.5M558.7 423.5L559.0 423.9M559.0 423.9L559.4 424.3M559.4 424.3L559.7 424.8M559.7 424.8L560.0 425.3M560.0 425.3L560.3 425.8M560.3 425.8L560.5 426.3M560.5 426.3L560.8 426.9M560.8 426.9L561.1 427.4M561.1 427.4L561.3 428.0M561.3 428.0L561.6 428.6M561.6 428.6L561.8 429.1M561.8 429.1L562.0 429.7M562.0 429.7L562.3 430.3M562.3 430.3L562.5 430.9M562.5 430.9L562.7 431.5M562.7 431.5L563.0 432.1M563.0 432.1L563.2 432.7M563.2 432.7L563.5 433.3M563.5 433.3L563.7 433.9M563.7 433.9L563.9 434.5M563.9 434.5L564.2 435.0M564.2 435.0L564.5 435.6M564.5 435.6L564.7 436.1M574.6 442.0L575.2 442.0M575.2 442.0L575.8 441.9M575.8 441.9L576.4 441.9M576.4 441.9L577.0 441.8M577.0 441.8L577.6 441.7M577.6 441.7L578.3 441.7M578.3 441.7L578.9 441.6M578.9 441.6L579.5 441.5M579.5 441.5L580.2 441.4M580.2 441.4L580.8 441.2M580.8 441.2L581.4 441.1M581.4 441.1L582.1 441.0M582.1 441.0L582.7 441.0M582.7 441.0L583.3 440.9M583.3 440.9L583.9 440.8M583.9 440.8L584.6 440.7M584.6 440.7L585.2 440.7M585.2 440.7L585.8 440.6M585.8 440.6L586.4 440.6M586.4 440.6L586.9 440.6M586.9 440.6L587.5 440.6M587.5 440.6L588.1 440.7M588.1 440.7L588.6 440.7M588.6 440.7L589.1 440.8M589.1 440.8L589.6 440.9M589.6 440.9L590.1 441.1M593.2 442.7L593.6 443.1M593.6 443.1L594.0 443.4M594.0 443.4L594.3 443.8M594.3 443.8L594.6 444.3M594.6 444.3L595.0 444.7M595.0 444.7L595.3 445.2M595.3 445.2L595.6 445.7M595.6 445.7L595.9 446.2M595.9 446.2L596.1 446.7M596.1 446.7L596.4 447.2M596.4 447.2L596.7 447.8M596.7 447.8L596.9 448.3M596.9 448.3L597.2 448.9M597.2 448.9L597.4 449.5M597.4 449.5L597.6 450.1M597.6 450.1L597.9 450.7M597.9 450.7L598.1 451.3M598.1 451.3L598.3 451.9M598.3 451.9L598.6 452.5M598.6 452.5L598.8 453.1M598.8 453.1L599.0 453.7M599.0 453.7L599.3 454.3M599.3 454.3L599.5 454.8M599.5 454.8L599.8 455.4M599.8 455.4L600.0 455.9M600.0 455.9L600.3 456.5M610.2 462.4L610.8 462.3M610.8 462.3L611.4 462.3M611.4 462.3L612.0 462.2M612.0 462.2L612.6 462.2M612.6 462.2L613.2 462.1M613.2 462.1L613.9 462.0M613.9 462.0L614.5 461.9M614.5 461.9L615.1 461.8M615.1 461.8L615.8 461.7M615.8 461.7L616.4 461.6M616.4 461.6L617.0 461.5M617.0 461.5L617.7 461.4M617.7 461.4L618.3 461.3M618.3 461.3L618.9 461.2M618.9 461.2L619.5 461.1M619.5 461.1L620.2 461.1M620.2 461.1L620.8 461.0M620.8 461.0L621.4 461.0M621.4 461.0L621.9 461.0M621.9 461.0L622.5 461.0M622.5 461.0L623.1 461.0M623.1 461.0L623.6 461.0M623.6 461.0L624.2 461.1M624.2 461.1L624.7 461.2M624.7 461.2L625.2 461.3M625.2 461.3L625.7 461.4M628.8 463.1L629.2 463.4M629.2 463.4L629.5 463.8M629.5 463.8L629.9 464.2M629.9 464.2L630.2 464.6M630.2 464.6L630.6 465.1M630.6 465.1L630.9 465.5M630.9 465.5L631.2 466.0M631.2 466.0L631.4 466.5M631.4 466.5L631.7 467.0M631.7 467.0L632.0 467.6M632.0 467.6L632.3 468.1M632.3 468.1L632.5 468.7M632.5 468.7L632.7 469.3M632.7 469.3L633.0 469.9M633.0 469.9L633.2 470.4M633.2 470.4L633.5 471.0M633.5 471.0L633.7 471.6M633.7 471.6L633.9 472.2M633.9 472.2L634.2 472.8M634.2 472.8L634.4 473.4M634.4 473.4L634.6 474.0M634.6 474.0L634.9 474.6M634.9 474.6L635.1 475.2M635.1 475.2L635.4 475.7M635.4 475.7L635.6 476.3M635.6 476.3L635.9 476.8M645.8 482.7L646.4 482.7M646.4 482.7L647.0 482.7M647.0 482.7L647.6 482.6M647.6 482.6L648.2 482.5M648.2 482.5L648.8 482.4M648.8 482.4L649.5 482.4M649.5 482.4L650.1 482.3M650.1 482.3L650.7 482.2M650.7 482.2L651.4 482.1M651.4 482.1L652.0 482.0M652.0 482.0L652.6 481.9M652.6 481.9L653.3 481.8M653.3 481.8L653.9 481.7M653.9 481.7L654.5 481.6M654.5 481.6L655.1 481.5M655.1 481.5L655.7 481.4M655.7 481.4L656.4 481.4M656.4 481.4L656.9 481.3M656.9 481.3L657.5 481.3M657.5 481.3L658.1 481.3M658.1 481.3L658.7 481.3M658.7 481.3L659.2 481.4M659.2 481.4L659.8 481.4M659.8 481.4L660.3 481.5M660.3 481.5L660.8 481.6M660.8 481.6L661.3 481.8M664.4 483.4L664.8 483.8M664.8 483.8L665.1 484.1M665.1 484.1L665.5 484.5M665.5 484.5L665.8 485.0M665.8 485.0L666.1 485.4M666.1 485.4L666.5 485.9M666.5 485.9L666.8 486.4M666.8 486.4L667.0 486.9M667.0 486.9L667.3 487.4M667.3 487.4L667.6 487.9M667.6 487.9L667.8 488.5M667.8 488.5L668.1 489.0M668.1 489.0L668.3 489.6M668.3 489.6L668.6 490.2M668.6 490.2L668.8 490.8M668.8 490.8L669.1 491.4M669.1 491.4L669.3 492.0M669.3 492.0L669.5 492.6M669.5 492.6L669.8 493.2M669.8 493.2L670.0 493.8M670.0 493.8L670.2 494.4M670.2 494.4L670.5 495.0M670.5 495.0L670.7 495.5M670.7 495.5L671.0 496.1M671.0 496.1L671.2 496.6M671.2 496.6L671.5 497.2M681.4 503.1L682.0 503.1M682.0 503.1L682.6 503.0M682.6 503.0L683.2 503.0M683.2 503.0L683.8 502.9M683.8 502.9L684.4 502.8M684.4 502.8L685.0 502.7M685.0 502.7L685.7 502.6M685.7 502.6L686.3 502.5M686.3 502.5L686.9 502.4M686.9 502.4L687.6 502.3M687.6 502.3L688.2 502.2M688.2 502.2L688.8 502.1M688.8 502.1L689.5 502.0M689.5 502.0L690.1 501.9M690.1 501.9L690.7 501.8" stroke="#e8302c" stroke-width="2.5" fill="none" stroke-linecap="round"/></g><text x="146.4" y="252.2" font-family="Liberation Sans" font-size="23" fill="#070f30" stroke="#070f30" stroke-width="0.25">DNA</text><line x1="145" y1="254.4" x2="195" y2="254.4" stroke="#0b2c66" stroke-width="1.6"/><line x1="170" y1="254.5" x2="215" y2="291" stroke="#0b2c66" stroke-width="1.25"/><text x="554" y="265.6" font-family="Liberation Sans" font-size="22.5" fill="#070f30" stroke="#070f30" stroke-width="0.25">H1 Histone</text><line x1="551" y1="268.4" x2="664" y2="268.4" stroke="#0b2c66" stroke-width="1.6"/><line x1="609" y1="268.5" x2="519" y2="339" stroke="#0b2c66" stroke-width="1.25"/><path d="M225.8 439.5 V468.2 H453.6 V439.5 M343 468.2 V481" stroke="#0b2c66" stroke-width="1.5" fill="none"/><text x="271" y="495.6" font-family="Liberation Sans" font-size="22.5" fill="#070f30" stroke="#070f30" stroke-width="0.25">8-Histone Core</text></svg></body></html>
